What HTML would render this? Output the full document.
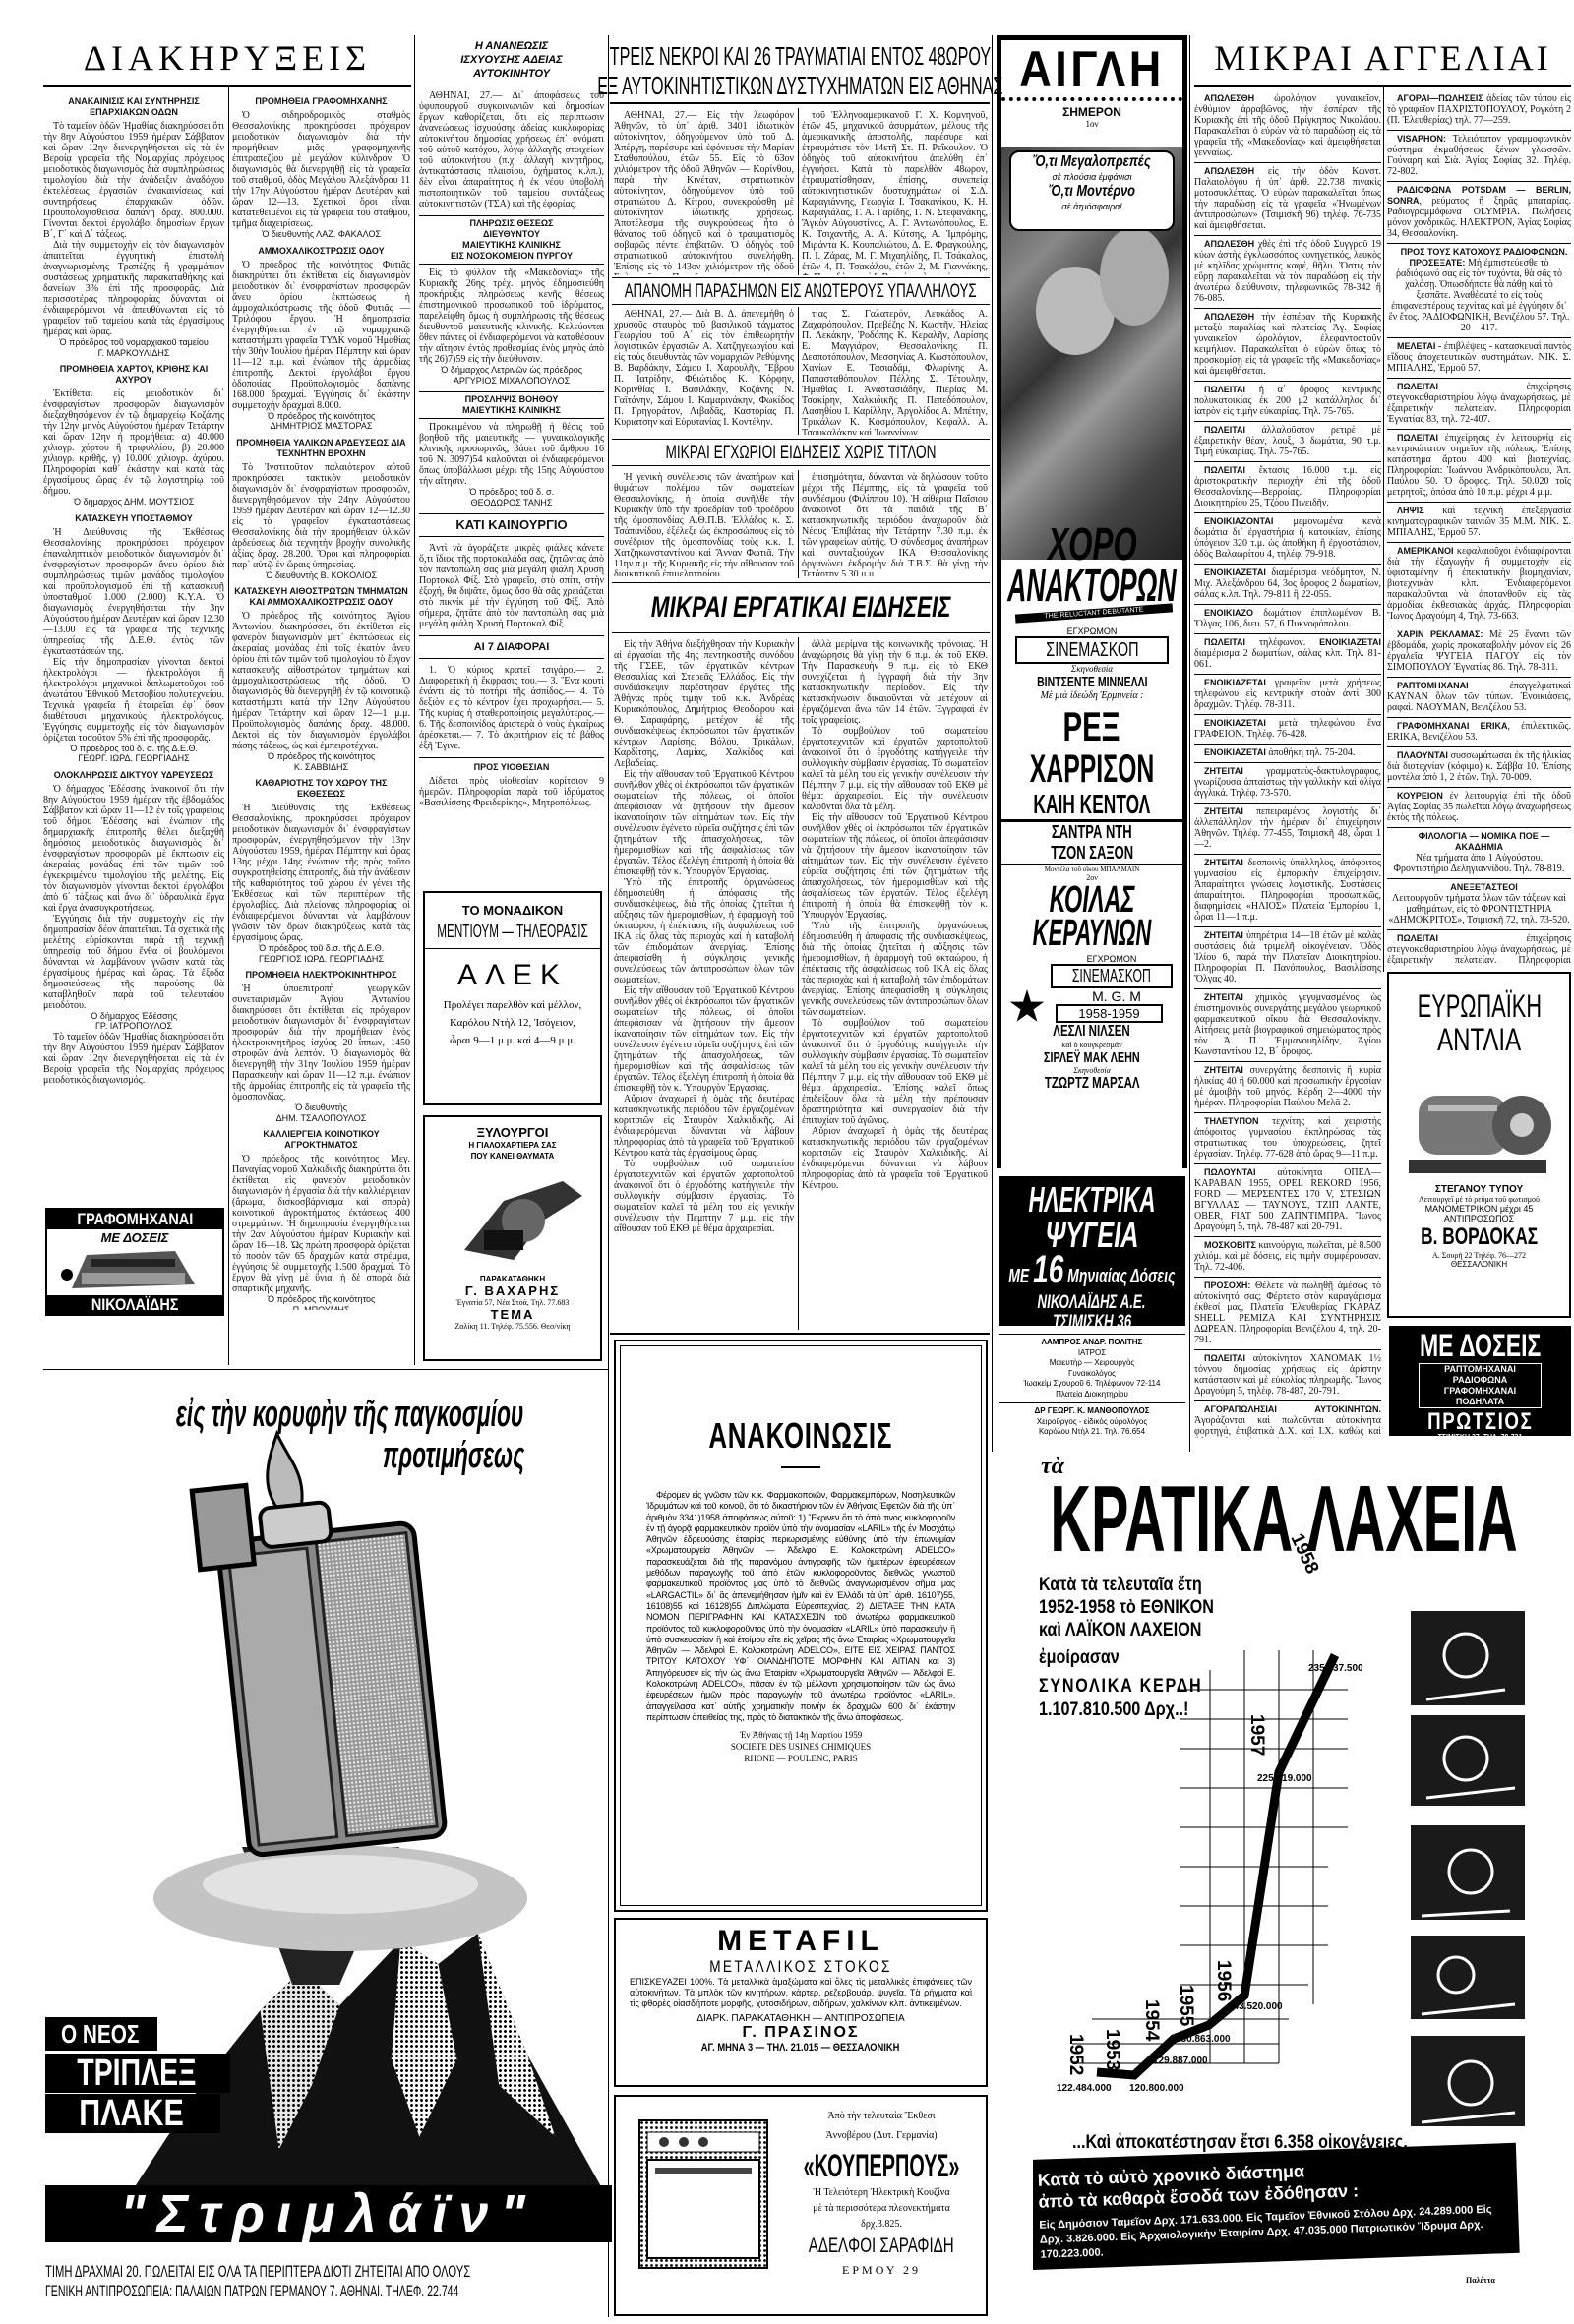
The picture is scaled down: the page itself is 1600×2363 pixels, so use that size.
<!DOCTYPE html>
<html><head><meta charset="utf-8">
<style>
*{margin:0;padding:0;box-sizing:border-box}
body{width:1600px;height:2363px;background:#fff;position:relative;overflow:hidden;font-family:"Liberation Serif",serif;color:#000}
.a{position:absolute}
.col{position:absolute;overflow:hidden;font:10px/11px "Liberation Serif",serif;text-align:justify;color:#111}
.col p{text-indent:10px}
.h{font:bold 9px/11px "Liberation Sans",sans-serif;text-align:center;margin:6px 0 3px;text-indent:0!important}
.hb{font:bold 13px/18px "Liberation Sans",sans-serif;text-align:center;border-top:1px solid #000;border-bottom:1px solid #000;margin:6px 0;padding:2px 0}
.s{font:9px/10.5px "Liberation Sans",sans-serif;text-align:center;text-indent:0!important}
.vr{position:absolute;width:1px;background:#000}
.hr{position:absolute;height:1px;background:#000}
.cl p{border-bottom:1px solid #000;padding:3px 0 4px;text-indent:10px}
.cl b{font-family:"Liberation Sans",sans-serif;font-size:9px}
.nar{font-family:"Liberation Sans",sans-serif}
.blk{background:#000;color:#fff;text-align:center;font-family:"Liberation Sans",sans-serif;font-weight:bold}
.ctr{text-align:center}
.fc{display:flex;justify-content:center;white-space:nowrap;font-family:"Liberation Sans",sans-serif}
.fc>span{flex-shrink:0;display:block;transform:scaleX(var(--s,.72))}
.dots{background:#fff radial-gradient(circle,#000 1.3px,transparent 1.6px) 0 0/5px 5px}
</style></head><body>

<!-- headers -->
<div class="a" style="left:44px;top:38px;width:374px;text-align:center;font-size:36px;letter-spacing:5px;line-height:42px">ΔΙΑΚΗΡΥΞΕΙΣ</div>
<div class="a fc" style="left:620px;top:42px;width:386px;font-size:26px;line-height:30px;--s:.62"><span>ΤΡΕΙΣ ΝΕΚΡΟΙ ΚΑΙ 26 ΤΡΑΥΜΑΤΙΑΙ ΕΝΤΟΣ 48ΩΡΟΥ</span></div>
<div class="a fc" style="left:620px;top:72px;width:386px;font-size:26px;line-height:30px;--s:.62"><span>ΕΞ ΑΥΤΟΚΙΝΗΤΙΣΤΙΚΩΝ ΔΥΣΤΥΧΗΜΑΤΩΝ ΕΙΣ ΑΘΗΝΑΣ</span></div>
<div class="a" style="left:1214px;top:38px;width:383px;text-align:center;font-size:36px;letter-spacing:3px;line-height:42px">ΜΙΚΡΑΙ ΑΓΓΕΛΙΑΙ</div>
<div class="a ctr" style="left:426px;top:40px;width:188px;font:italic bold 11px/14px 'Liberation Sans',sans-serif">Η ΑΝΑΝΕΩΣΙΣ<br>ΙΣΧΥΟΥΣΗΣ ΑΔΕΙΑΣ<br>ΑΥΤΟΚΙΝΗΤΟΥ</div>

<!-- rules -->
<div class="vr" style="left:232px;top:88px;height:1300px"></div>
<div class="vr" style="left:421px;top:36px;height:1352px"></div>
<div class="vr" style="left:618px;top:36px;height:2320px"></div>
<div class="vr" style="left:1008px;top:36px;height:1440px"></div>
<div class="vr" style="left:1209px;top:36px;height:1440px"></div>
<div class="vr" style="left:1406px;top:88px;height:900px"></div>
<div class="vr" style="left:811px;top:110px;height:170px"></div>
<div class="vr" style="left:811px;top:312px;height:130px"></div>
<div class="vr" style="left:811px;top:478px;height:110px"></div>
<div class="vr" style="left:811px;top:648px;height:704px"></div>
<div class="hr" style="left:44px;top:86px;width:374px;height:2px"></div>
<div class="hr" style="left:1214px;top:86px;width:383px;height:2px"></div>
<div class="hr" style="left:620px;top:104px;width:386px;height:2px"></div>
<div class="hr" style="left:44px;top:1392px;width:574px"></div>
<div class="hr" style="left:620px;top:1355px;width:386px;height:2px"></div>

<!-- COL 1 -->
<div class="col" style="left:44px;top:92px;width:184px;height:1130px">
<div class="h">ΑΝΑΚΑΙΝΙΣΙΣ ΚΑΙ ΣΥΝΤΗΡΗΣΙΣ ΕΠΑΡΧΙΑΚΩΝ ΟΔΩΝ</div>
<p>Τὸ ταμεῖον ὁδῶν Ἠμαθίας διακηρύσσει ὅτι τὴν 8ην Αὐγούστου 1959 ἡμέραν Σάββατον καὶ ὥραν 12ην διενεργηθήσεται εἰς τὰ ἐν Βεροίᾳ γραφεῖα τῆς Νομαρχίας πρόχειρος μειοδοτικὸς διαγωνισμὸς διὰ συμπληρώσεως τιμολογίου διὰ τὴν ἀνάδειξιν ἀναδόχου ἐκτελέσεως ἐργασιῶν ἀνακαινίσεως καὶ συντηρήσεως ἐπαρχιακῶν ὁδῶν. Προϋπολογισθεῖσα δαπάνη δραχ. 800.000. Γίνονται δεκτοὶ ἐργολάβοι δημοσίων ἔργων Β΄, Γ΄ καὶ Δ΄ τάξεως.</p>
<p>Διὰ τὴν συμμετοχὴν εἰς τὸν διαγωνισμὸν ἀπαιτεῖται ἐγγυητικὴ ἐπιστολὴ ἀναγνωρισμένης Τραπέζης ἢ γραμμάτιον συστάσεως χρηματικῆς παρακαταθήκης καὶ δανείων 3% ἐπὶ τῆς προσφορᾶς. Διὰ περισσοτέρας πληροφορίας δύνανται οἱ ἐνδιαφερόμενοι νὰ ἀπευθύνωνται εἰς τὸ γραφεῖον τοῦ ταμείου κατὰ τὰς ἐργασίμους ἡμέρας καὶ ὥρας.</p>
<p class="s">Ὁ πρόεδρος τοῦ νομαρχιακοῦ ταμείου<br>Γ. ΜΑΡΚΟΥΛΙΔΗΣ</p>
<div class="h">ΠΡΟΜΗΘΕΙΑ ΧΑΡΤΟΥ, ΚΡΙΘΗΣ ΚΑΙ ΑΧΥΡΟΥ</div>
<p>Ἐκτίθεται εἰς μειοδοτικὸν δι᾽ ἐνσφραγίστων προσφορῶν διαγωνισμὸν διεξαχθησόμενον ἐν τῷ δημαρχείῳ Κοζάνης τὴν 12ην μηνὸς Αὐγούστου ἡμέραν Τετάρτην καὶ ὥραν 12ην ἡ προμήθεια: α) 40.000 χιλιογρ. χόρτου ἢ τριφυλλίου, β) 20.000 χιλιογρ. κριθῆς, γ) 10.000 χιλιογρ. ἀχύρου. Πληροφορίαι καθ᾽ ἑκάστην καὶ κατὰ τὰς ἐργασίμους ὥρας ἐν τῷ λογιστηρίῳ τοῦ δήμου.</p>
<p class="s">Ὁ δήμαρχος ΔΗΜ. ΜΟΥΤΣΙΟΣ</p>
<div class="h">ΚΑΤΑΣΚΕΥΗ ΥΠΟΣΤΑΘΜΟΥ</div>
<p>Ἡ Διεύθυνσις τῆς Ἐκθέσεως Θεσσαλονίκης προκηρύσσει πρόχειρον ἐπαναληπτικὸν μειοδοτικὸν διαγωνισμὸν δι᾽ ἐνσφραγίστων προσφορῶν ἄνευ ὁρίου διὰ συμπληρώσεως τιμῶν μονάδος τιμολογίου καὶ προϋπολογισμοῦ ἐπὶ τῇ κατασκευῇ ὑποσταθμοῦ 1.000 (2.000) Κ.Υ.Α. Ὁ διαγωνισμὸς ἐνεργηθήσεται τὴν 3ην Αὐγούστου ἡμέραν Δευτέραν καὶ ὥραν 12.30—13.00 εἰς τὰ γραφεῖα τῆς τεχνικῆς ὑπηρεσίας τῆς Δ.Ε.Θ. ἐντὸς τῶν ἐγκαταστάσεών της.</p>
<p>Εἰς τὴν δημοπρασίαν γίνονται δεκτοὶ ἠλεκτρολόγοι — ἠλεκτρολόγοι ἢ ἠλεκτρολόγοι μηχανικοὶ διπλωματοῦχοι τοῦ ἀνωτάτου Ἐθνικοῦ Μετσοβίου πολυτεχνείου. Τεχνικὰ γραφεῖα ἢ ἑταιρεῖαι ἐφ᾽ ὅσον διαθέτουσι μηχανικοὺς ἠλεκτρολόγους. Ἐγγύησις συμμετοχῆς εἰς τὸν διαγωνισμὸν ὁρίζεται τοσοῦτον 5% ἐπὶ τῆς προσφορᾶς.</p>
<p class="s">Ὁ πρόεδρος τοῦ δ. σ. τῆς Δ.Ε.Θ.<br>ΓΕΩΡΓ. ΙΩΡΔ. ΓΕΩΡΓΙΑΔΗΣ</p>
<div class="h">ΟΛΟΚΛΗΡΩΣΙΣ ΔΙΚΤΥΟΥ ΥΔΡΕΥΣΕΩΣ</div>
<p>Ὁ δήμαρχος Ἐδέσσης ἀνακοινοῖ ὅτι τὴν 8ην Αὐγούστου 1959 ἡμέραν τῆς ἑβδομάδος Σάββατον καὶ ὥραν 11—12 ἐν τοῖς γραφείοις τοῦ δήμου Ἐδέσσης καὶ ἐνώπιον τῆς δημαρχιακῆς ἐπιτροπῆς θέλει διεξαχθῆ δημόσιος μειοδοτικὸς διαγωνισμὸς δι᾽ ἐνσφραγίστων προσφορῶν μὲ ἔκπτωσιν εἰς ἀκεραίας μονάδας ἐπὶ τῶν τιμῶν τοῦ ἐγκεκριμένου τιμολογίου τῆς μελέτης. Εἰς τὸν διαγωνισμὸν γίνονται δεκτοὶ ἐργολάβοι ἀπὸ 6΄ τάξεως καὶ ἄνω δι᾽ ὑδραυλικὰ ἔργα καὶ ἔργα ἀνασυγκροτήσεως.</p>
<p>Ἐγγύησις διὰ τὴν συμμετοχὴν εἰς τὴν δημοπρασίαν δέον ἀπαιτεῖται. Τὰ σχετικὰ τῆς μελέτης εὑρίσκονται παρὰ τῇ τεχνικῇ ὑπηρεσίᾳ τοῦ δήμου ἔνθα οἱ βουλόμενοι δύνανται νὰ λαμβάνουν γνῶσιν κατὰ τὰς ἐργασίμους ἡμέρας καὶ ὥρας. Τὰ ἔξοδα δημοσιεύσεως τῆς παρούσης θὰ καταβληθοῦν παρὰ τοῦ τελευταίου μειοδότου.</p>
<p class="s">Ὁ δήμαρχος Ἐδέσσης<br>ΓΡ. ΙΑΤΡΟΠΟΥΛΟΣ</p>
<p>Τὸ ταμεῖον ὁδῶν Ἠμαθίας διακηρύσσει ὅτι τὴν 8ην Αὐγούστου 1959 ἡμέραν Σάββατον καὶ ὥραν 12ην διενεργηθήσεται εἰς τὰ ἐν Βεροίᾳ γραφεῖα τῆς Νομαρχίας πρόχειρος μειοδοτικὸς διαγωνισμός.</p>
</div>
<!-- Grafomixanai ad -->
<div class="a" style="left:46px;top:1228px;width:182px;height:110px;border:2px solid #000;overflow:hidden">
<div class="blk fc" style="font-size:17px;line-height:20px;--s:.85"><span>ΓΡΑΦΟΜΗΧΑΝΑΙ</span></div>
<div class="ctr" style="font:italic bold 13px 'Liberation Sans',sans-serif;margin-top:1px">ΜΕ ΔΟΣΕΙΣ</div>
<svg width="178" height="50" style="display:block"><polygon points="40,10 130,6 150,40 25,44" fill="#555"/><rect x="45" y="14" width="85" height="8" fill="#222"/><rect x="35" y="28" width="105" height="12" fill="#999"/><circle cx="20" cy="30" r="6" fill="#000"/></svg>
<div class="blk fc" style="position:absolute;bottom:0;left:0;right:0;font-size:17px;line-height:19px;--s:.85"><span>ΝΙΚΟΛΑΪΔΗΣ</span></div>
</div>

<!-- COL 2 -->
<div class="col" style="left:236px;top:92px;width:181px;height:1240px">
<div class="h">ΠΡΟΜΗΘΕΙΑ ΓΡΑΦΟΜΗΧΑΝΗΣ</div>
<p>Ὁ σιδηροδρομικὸς σταθμὸς Θεσσαλονίκης προκηρύσσει πρόχειρον μειοδοτικὸν διαγωνισμὸν διὰ τὴν προμήθειαν μιᾶς γραφομηχανῆς ἐπιτραπεζίου μὲ μεγάλον κύλινδρον. Ὁ διαγωνισμὸς θὰ διενεργηθῇ εἰς τὰ γραφεῖα τοῦ σταθμοῦ, ὁδὸς Μεγάλου Ἀλεξάνδρου 11 τὴν 17ην Αὐγούστου ἡμέραν Δευτέραν καὶ ὥραν 12—13. Σχετικοὶ ὅροι εἶναι κατατεθειμένοι εἰς τὰ γραφεῖα τοῦ σταθμοῦ, τμῆμα διαχειρίσεως.</p>
<p class="s">Ὁ διευθυντὴς ΛΑΖ. ΦΑΚΑΛΟΣ</p>
<div class="h">ΑΜΜΟΧΑΛΙΚΟΣΤΡΩΣΙΣ ΟΔΟΥ</div>
<p>Ὁ πρόεδρος τῆς κοινότητος Φυτιᾶς διακηρύττει ὅτι ἐκτίθεται εἰς διαγωνισμὸν μειοδοτικὸν δι᾽ ἐνσφραγίστων προσφορῶν ἄνευ ὁρίου ἐκπτώσεως ἡ ἀμμοχαλικόστρωσις τῆς ὁδοῦ Φυτιᾶς — Τριλόφου ἔργου. Ἡ δημοπρασία ἐνεργηθήσεται ἐν τῷ νομαρχιακῷ καταστήματι γραφεῖα ΤΥΔΚ νομοῦ Ἠμαθίας τὴν 30ὴν Ἰουλίου ἡμέραν Πέμπτην καὶ ὥραν 11—12 π.μ. καὶ ἐνώπιον τῆς ἁρμοδίας ἐπιτροπῆς. Δεκτοὶ ἐργολάβοι ἔργου ὁδοποιίας. Προϋπολογισμὸς δαπάνης 168.000 δραχμαί. Ἐγγύησις δι᾽ ἑκάστην συμμετοχὴν δραχμαὶ 8.000.</p>
<p class="s">Ὁ πρόεδρος τῆς κοινότητος<br>ΔΗΜΗΤΡΙΟΣ ΜΑΣΤΟΡΑΣ</p>
<div class="h">ΠΡΟΜΗΘΕΙΑ ΥΑΛΙΚΩΝ ΑΡΔΕΥΣΕΩΣ ΔΙΑ ΤΕΧΝΗΤΗΝ ΒΡΟΧΗΝ</div>
<p>Τὸ Ἰνστιτοῦτον παλαιότερον αὐτοῦ προκηρύσσει τακτικὸν μειοδοτικὸν διαγωνισμὸν δι᾽ ἐνσφραγίστων προσφορῶν, διενεργηθησόμενον τὴν 24ην Αὐγούστου 1959 ἡμέραν Δευτέραν καὶ ὥραν 12—12.30 εἰς τὸ γραφεῖον ἐγκαταστάσεως Θεσσαλονίκης διὰ τὴν προμήθειαν ὑλικῶν ἀρδεύσεως διὰ τεχνητὴν βροχὴν συνολικῆς ἀξίας δραχ. 28.200. Ὅροι καὶ πληροφορίαι παρ᾽ αὐτῷ ἐν ὥραις ὑπηρεσίας.</p>
<p class="s">Ὁ διευθυντὴς Β. ΚΟΚΟΛΙΟΣ</p>
<div class="h">ΚΑΤΑΣΚΕΥΗ ΑΙΘΟΣΤΡΩΤΩΝ ΤΜΗΜΑΤΩΝ ΚΑΙ ΑΜΜΟΧΑΛΙΚΟΣΤΡΩΣΙΣ ΟΔΟΥ</div>
<p>Ὁ πρόεδρος τῆς κοινότητος Ἁγίου Ἀντωνίου, διακηρύσσει, ὅτι ἐκτίθεται εἰς φανερὸν διαγωνισμὸν μετ᾽ ἐκπτώσεως εἰς ἀκεραίας μονάδας ἐπὶ τοῖς ἑκατὸν ἄνευ ὁρίου ἐπὶ τῶν τιμῶν τοῦ τιμολογίου τὸ ἔργον κατασκευῆς αἰθοστρώτων τμημάτων καὶ ἀμμοχαλικοστρώσεως τῆς ὁδοῦ. Ὁ διαγωνισμὸς θὰ διενεργηθῇ ἐν τῷ κοινοτικῷ καταστήματι κατὰ τὴν 12ην Αὐγούστου ἡμέραν Τετάρτην καὶ ὥραν 12—1 μ.μ. Προϋπολογισμὸς δαπάνης δραχ. 48.000. Δεκτοὶ εἰς τὸν διαγωνισμὸν ἐργολάβοι πάσης τάξεως, ὡς καὶ ἐμπειροτέχναι.</p>
<p class="s">Ὁ πρόεδρος τῆς κοινότητος<br>Κ. ΣΑΒΒΙΔΗΣ</p>
<div class="h">ΚΑΘΑΡΙΟΤΗΣ ΤΟΥ ΧΩΡΟΥ ΤΗΣ ΕΚΘΕΣΕΩΣ</div>
<p>Ἡ Διεύθυνσις τῆς Ἐκθέσεως Θεσσαλονίκης, προκηρύσσει πρόχειρον μειοδοτικὸν διαγωνισμὸν δι᾽ ἐνσφραγίστων προσφορῶν, ἐνεργηθησόμενον τὴν 13ην Αὐγούστου 1959, ἡμέραν Πέμπτην καὶ ὥρας 13ης μέχρι 14ης ἐνώπιον τῆς πρὸς τοῦτο συγκροτηθείσης ἐπιτροπῆς, διὰ τὴν ἀνάθεσιν τῆς καθαριότητος τοῦ χώρου ἐν γένει τῆς Ἐκθέσεως καὶ τῶν περιπτέρων τῆς ἐργολαβίας. Διὰ πλείονας πληροφορίας οἱ ἐνδιαφερόμενοι δύνανται νὰ λαμβάνουν γνῶσιν τῶν ὅρων διακηρύξεως κατὰ τὰς ἐργασίμους ὥρας.</p>
<p class="s">Ὁ πρόεδρος τοῦ δ.σ. τῆς Δ.Ε.Θ.<br>ΓΕΩΡΓΙΟΣ ΙΩΡΔ. ΓΕΩΡΓΙΑΔΗΣ</p>
<div class="h">ΠΡΟΜΗΘΕΙΑ ΗΛΕΚΤΡΟΚΙΝΗΤΗΡΟΣ</div>
<p>Ἡ ὑποεπιτροπὴ γεωργικῶν συνεταιρισμῶν Ἀγίου Ἀντωνίου διακηρύσσει ὅτι ἐκτίθεται εἰς πρόχειρον μειοδοτικὸν διαγωνισμὸν δι᾽ ἐνσφραγίστων προσφορῶν διὰ τὴν προμήθειαν ἑνὸς ἠλεκτροκινητῆρος ἰσχύος 20 ἵππων, 1450 στροφῶν ἀνὰ λεπτόν. Ὁ διαγωνισμὸς θὰ διενεργηθῇ τὴν 31ην Ἰουλίου 1959 ἡμέραν Παρασκευὴν καὶ ὥραν 11—12 π.μ. ἐνώπιον τῆς ἁρμοδίας ἐπιτροπῆς εἰς τὰ γραφεῖα τῆς ὁμοσπονδίας.</p>
<p class="s">Ὁ διευθυντὴς<br>ΔΗΜ. ΤΣΑΛΟΠΟΥΛΟΣ</p>
<div class="h">ΚΑΛΛΙΕΡΓΕΙΑ ΚΟΙΝΟΤΙΚΟΥ ΑΓΡΟΚΤΗΜΑΤΟΣ</div>
<p>Ὁ πρόεδρος τῆς κοινότητος Μεγ. Παναγίας νομοῦ Χαλκιδικῆς διακηρύττει ὅτι ἐκτίθεται εἰς φανερὸν μειοδοτικὸν διαγωνισμὸν ἡ ἐργασία διὰ τὴν καλλιέργειαν (ἄρωμα, δισκοσβάρνισμα καὶ σπορὰ) κοινοτικοῦ ἀγροκτήματος ἐκτάσεως 400 στρεμμάτων. Ἡ δημοπρασία ἐνεργηθήσεται τὴν 2αν Αὐγούστου ἡμέραν Κυριακὴν καὶ ὥραν 16—18. Ὡς πρώτη προσφορὰ ὁρίζεται τὸ ποσὸν τῶν 65 δραχμῶν κατὰ στρέμμα, ἐγγύησις δὲ συμμετοχῆς 1.500 δραχμαί. Τὸ ἔργον θὰ γίνῃ μὲ ὕνια, ἡ δὲ σπορὰ διὰ σπαρτικῆς μηχανῆς.</p>
<p class="s">Ὁ πρόεδρος τῆς κοινότητος<br>Π. ΜΠΟΥΜΗΣ</p>
</div>

<!-- COL 3 -->
<div class="col" style="left:426px;top:92px;width:188px;height:810px">
<p>ΑΘΗΝΑΙ, 27.— Δι᾽ ἀποφάσεως τοῦ ὑφυπουργοῦ συγκοινωνιῶν καὶ δημοσίων ἔργων καθορίζεται, ὅτι εἰς περίπτωσιν ἀνανεώσεως ἰσχυούσης ἀδείας κυκλοφορίας αὐτοκινήτου δημοσίας χρήσεως ἐπ᾽ ὀνόματι τοῦ αὐτοῦ κατόχου, λόγῳ ἀλλαγῆς στοιχείων τοῦ αὐτοκινήτου (π.χ. ἀλλαγὴ κινητῆρος, ἀντικατάστασις πλαισίου, ὀχήματος κ.λπ.), δὲν εἶναι ἀπαραίτητος ἡ ἐκ νέου ὑποβολὴ πιστοποιητικῶν τοῦ ταμείου συντάξεως αὐτοκινητιστῶν (ΤΣΑ) καὶ τῆς ἐφορίας.</p>
<div class="h" style="border-top:1px solid #000;border-bottom:1px solid #000;padding:2px 0">ΠΛΗΡΩΣΙΣ ΘΕΣΕΩΣ<br>ΔΙΕΥΘΥΝΤΟΥ<br>ΜΑΙΕΥΤΙΚΗΣ ΚΛΙΝΙΚΗΣ<br>ΕΙΣ ΝΟΣΟΚΟΜΕΙΟΝ ΠΥΡΓΟΥ</div>
<p>Εἰς τὸ φύλλον τῆς «Μακεδονίας» τῆς Κυριακῆς 26ης τρέχ. μηνὸς ἐδημοσιεύθη προκήρυξις πληρώσεως κενῆς θέσεως ἐπιστημονικοῦ προσωπικοῦ τοῦ ἱδρύματος, παρελείφθη ὅμως ἡ συμπλήρωσις τῆς θέσεως διευθυντοῦ μαιευτικῆς κλινικῆς. Κελεύονται ὅθεν πάντες οἱ ἐνδιαφερόμενοι νὰ καταθέσουν τὴν αἴτησιν ἐντὸς προθεσμίας ἑνὸς μηνὸς ἀπὸ τῆς 26)7)59 εἰς τὴν διεύθυνσιν.</p>
<p class="s">Ὁ δήμαρχος Λετρινῶν ὡς πρόεδρος<br>ΑΡΓΥΡΙΟΣ ΜΙΧΑΛΟΠΟΥΛΟΣ</p>
<div class="h" style="border-top:1px solid #000;border-bottom:1px solid #000;padding:2px 0">ΠΡΟΣΛΗΨΙΣ ΒΟΗΘΟΥ<br>ΜΑΙΕΥΤΙΚΗΣ ΚΛΙΝΙΚΗΣ</div>
<p>Προκειμένου νὰ πληρωθῇ ἡ θέσις τοῦ βοηθοῦ τῆς μαιευτικῆς — γυναικολογικῆς κλινικῆς προσωρινῶς, βάσει τοῦ ἄρθρου 16 τοῦ Ν. 3097)54 καλοῦνται οἱ ἐνδιαφερόμενοι ὅπως ὑποβάλλωσι μέχρι τῆς 15ης Αὐγούστου τὴν αἴτησιν.</p>
<p class="s">Ὁ πρόεδρος τοῦ δ. σ.<br>ΘΕΟΔΩΡΟΣ ΤΑΝΗΣ</p>
<div class="hb">ΚΑΤΙ ΚΑΙΝΟΥΡΓΙΟ</div>
<p>Ἀντὶ νὰ ἀγοράζετε μικρὲς φιάλες κάνετε ὅ,τι ἴδιος τῆς πορτοκαλάδα σας, ζητῶντας ἀπὸ τὸν παντοπώλη σας μιὰ μεγάλη φιάλη Χρυσὴ Πορτοκαλ Φίξ. Στὸ γραφεῖο, στὸ σπίτι, στὴν ἐξοχή, θὰ διψᾶτε, ὅμως ὅσο θὰ σᾶς χρειάζεται στὸ πικνίκ μὲ τὴν ἐγγύηση τοῦ Φίξ. Ἀπὸ σήμερα, ζητᾶτε ἀπὸ τὸν παντοπώλη σας μιὰ μεγάλη φιάλη Χρυσὴ Πορτοκαλ Φίξ.</p>
<div class="hb" style="font-size:11px">ΑΙ 7 ΔΙΑΦΟΡΑΙ</div>
<p>1. Ὁ κύριος κρατεῖ τσιγάρο.— 2. Διαφορετικὴ ἡ ἔκφρασις του.— 3. Ἔνα κουτὶ ἐνάντι εἰς τὸ ποτήρι τῆς ἀσπίδος.— 4. Τὸ δεξιὸν εἰς τὸ κέντρον ἔχει προχωρήσει.— 5. Τῆς κυρίας ἡ σταθεροποίησις μεγαλύτερος.— 6. Τῆς δεσποινίδος ἀριστερὰ ὁ νοὺς ἐγκαίρως ἀρέσκεται.— 7. Τὸ ἀκριτήριον εἰς τὸ βάθος ἐξῆ Ἐγινε.</p>
<div class="h" style="border-top:1px solid #000;padding-top:4px">ΠΡΟΣ ΥΙΟΘΕΣΙΑΝ</div>
<p>Δίδεται πρὸς υἱοθεσίαν κορίτσιον 9 ἡμερῶν. Πληροφορίαι παρὰ τοῦ ἱδρύματος «Βασιλίσσης Φρειδερίκης», Μητροπόλεως.</p>
</div>
<div class="a ctr" style="left:430px;top:906px;width:182px;height:218px;border:2px solid #000;padding-top:10px">
<div class="nar" style="font-size:13px;font-weight:bold">ΤΟ ΜΟΝΑΔΙΚΟΝ</div>
<div class="fc" style="font-size:18px;margin-top:4px;border-bottom:1px solid #000;padding-bottom:6px;--s:.65"><span>ΜΕΝΤΙΟΥΜ — ΤΗΛΕΟΡΑΣΙΣ</span></div>
<div style="font-size:30px;letter-spacing:8px;margin:10px 0 4px;font-family:'Liberation Sans',sans-serif">ΑΛΕΚ</div>
<div style="font-size:11px;line-height:18px">Προλέγει παρελθὸν καὶ μέλλον,<br>Καρόλου Ντὴλ 12, Ἰσόγειον,<br>ὧραι 9—1 μ.μ. καὶ 4—9 μ.μ.</div>
</div>
<div class="a ctr" style="left:430px;top:1134px;width:182px;height:250px;border:2px solid #000;padding-top:8px">
<div class="nar" style="font-size:13px;font-weight:bold">ΞΥΛΟΥΡΓΟΙ</div>
<div class="nar" style="font-size:8px;font-weight:bold;line-height:11px">Η ΓΙΑΛΟΧΑΡΤΙΕΡΑ ΣΑΣ<br>ΠΟΥ ΚΑΝΕΙ ΘΑΥΜΑΤΑ</div>
<svg width="178" height="110"><polygon points="40,90 80,40 140,20 160,35 120,60 90,100" fill="#333"/><circle cx="100" cy="60" r="22" fill="#666"/><rect x="60" y="70" width="40" height="20" fill="#111"/></svg>
<div class="nar" style="font-size:8px;font-weight:bold">ΠΑΡΑΚΑΤΑΘΗΚΗ</div>
<div class="nar" style="font-size:13px;font-weight:bold;letter-spacing:2px">Γ. ΒΑΧΑΡΗΣ</div>
<div style="font-size:8px">Ἐγνατία 57, Νέα Στοά, Τηλ. 77.683</div>
<div class="nar" style="font-size:13px;font-weight:bold;letter-spacing:2px">ΤΕΜΑ</div>
<div style="font-size:8px">Ζαλίκη 11. Τηλέφ. 75.556. Θεσ/νίκη</div>
</div>

<!-- COL 4 -->
<div class="col" style="left:624px;top:112px;width:183px;height:168px">
<p>ΑΘΗΝΑΙ, 27.— Εἰς τὴν λεωφόρον Ἀθηνῶν, τὸ ὑπ᾽ ἀριθ. 3401 ἰδιωτικὸν αὐτοκίνητον, ὁδηγούμενον ὑπὸ τοῦ Δ. Ἀπέργη, παρέσυρε καὶ ἐφόνευσε τὴν Μαρίαν Σταθοπούλου, ἐτῶν 55. Εἰς τὸ 63ον χιλιόμετρον τῆς ὁδοῦ Ἀθηνῶν — Κορίνθου, παρὰ τὴν Κινέταν, στρατιωτικὸν αὐτοκίνητον, ὁδηγούμενον ὑπὸ τοῦ στρατιώτου Δ. Κίτρου, συνεκρούσθη μὲ αὐτοκίνητον ἰδιωτικῆς χρήσεως. Ἀποτέλεσμα τῆς συγκρούσεως ἦτο ὁ θάνατος τοῦ ὁδηγοῦ καὶ ὁ τραυματισμὸς σοβαρῶς πέντε ἐπιβατῶν. Ὁ ὁδηγὸς τοῦ στρατιωτικοῦ αὐτοκινήτου συνελήφθη. Ἐπίσης εἰς τὸ 143ον χιλιόμετρον τῆς ὁδοῦ Σαλονικῶν — Πατρῶν.</p>
</div>
<div class="col" style="left:815px;top:112px;width:189px;height:168px">
<p>τοῦ Ἑλληνοαμερικανοῦ Γ. Χ. Κομνηνοῦ, ἐτῶν 45, μηχανικοῦ ἀσυρμάτων, μέλους τῆς ἀμερικανικῆς ἀποστολῆς, παρέσυρε καὶ ἐτραυμάτισε τὸν 14ετῆ Στ. Π. Ρεΐκουλον. Ὁ ὁδηγὸς τοῦ αὐτοκινήτου ἀπελύθη ἐπ᾽ ἐγγυήσει. Κατὰ τὸ παρελθὸν 48ωρον, ἐτραυματίσθησαν, ἐπίσης, συνεπείᾳ αὐτοκινητιστικῶν δυστυχημάτων οἱ Σ.Δ. Καραγιάννης, Γεωργία Ι. Τσακανίκου, Κ. Η. Καραγιάλας, Γ. Α. Γαρίδης, Γ. Ν. Στεφανάκης, Ἄγκὸν Αὐγουστίνος, Α. Γ. Ἀντωνόπουλος, Ε. Κ. Τσιχαντῆς, Α. Α. Κύτσης, Α. Ἰμπρόμης, Μιράντα Κ. Κουπαλιώτου, Δ. Ε. Φραγκούλης, Π. Ι. Ζάρας, Μ. Γ. Μιχαηλίδης, Π. Τσάκαλος, ἐτῶν 4, Π. Τσακάλου, ἐτῶν 2, Μ. Γιαννάκης, Φ. Παπαδάκη καὶ Ι. Βραχάτης λοχαγός.</p>
</div>
<div class="a fc" style="left:622px;top:282px;width:384px;height:28px;border-top:1px solid #000;border-bottom:1px solid #000;font-size:19px;line-height:27px;--s:.7"><span>ΑΠΑΝΟΜΗ ΠΑΡΑΣΗΜΩΝ ΕΙΣ ΑΝΩΤΕΡΟΥΣ ΥΠΑΛΛΗΛΟΥΣ</span></div>
<div class="col" style="left:624px;top:314px;width:183px;height:128px">
<p>ΑΘΗΝΑΙ, 27.— Διὰ Β. Δ. ἀπενεμήθη ὁ χρυσοῦς σταυρὸς τοῦ βασιλικοῦ τάγματος Γεωργίου τοῦ Α΄ εἰς τὸν ἐπιθεωρητὴν λογιστικῶν ἐργασιῶν Α. Χατζηγεωργίου καὶ εἰς τοὺς διευθυντὰς τῶν νομαρχιῶν Ρεθύμνης Β. Βαρδάκην, Σάμου Ι. Χαρουλῆν, Ἔβρου Π. Ἰατρίδην, Φθιώτιδος Κ. Κόρφην, Κορινθίας Ι. Βασιλάκην, Κοζάνης Ν. Γαϊτάνην, Σάμου Ι. Καμαρινάκην, Φωκίδος Π. Γρηγοράτον, Λιβαδᾶς, Καστορίας Π. Κυριάτσην καὶ Εὐρυτανίας Ι. Κοντέλην.</p>
</div>
<div class="col" style="left:815px;top:314px;width:189px;height:128px">
<p>τίας Σ. Γαλατερόν, Λευκάδος Α. Ζαχαρόπουλον, Πρεβέζης Ν. Κωστῆν, Ἡλείας Π. Λεκάκην, Ῥοδόπης Κ. Κεραλῆν, Λαρίσης Ε. Μαγγιάρον, Θεσσαλονίκης Π. Δεσποτόπουλον, Μεσσηνίας Α. Κωστόπουλον, Χανίων Ε. Τασιαδάμ, Φλωρίνης Α. Παπασταθόπουλον, Πέλλης Σ. Τέτουλην, Ἠμαθίας Ι. Ἀναστασιάδην, Πιερίας Μ. Τσακίρην, Χαλκιδικῆς Π. Πεπεδόπουλον, Λασηθίου Ι. Καρίλλην, Ἀργολίδος Α. Μπέτην, Τρικάλων Κ. Κοσμόπουλον, Κεφαλλ. Α. Τσουκαλάκην καὶ Ἰωαννίνων.</p>
</div>
<div class="a fc" style="left:622px;top:446px;width:384px;height:28px;border-top:1px solid #000;border-bottom:1px solid #000;font-size:19px;line-height:27px;--s:.72"><span>ΜΙΚΡΑΙ ΕΓΧΩΡΙΟΙ ΕΙΔΗΣΕΙΣ ΧΩΡΙΣ ΤΙΤΛΟΝ</span></div>
<div class="col" style="left:624px;top:480px;width:183px;height:106px">
<p>Ἡ γενικὴ συνέλευσις τῶν ἀναπήρων καὶ θυμάτων πολέμου τῶν σωματείων Θεσσαλονίκης, ἡ ὁποία συνῆλθε τὴν Κυριακὴν ὑπὸ τὴν προεδρίαν τοῦ προέδρου τῆς ὁμοσπονδίας Α.Θ.Π.Β. Ἑλλάδος κ. Σ. Τσάπανίδου, ἐξέλεξε ὡς ἐκπροσώπους εἰς τὸ συνέδριον τῆς ὁμοσπονδίας τοὺς κ.κ. Ι. Χατζηκωνσταντίνου καὶ Ἄνναν Φωτιᾶ. Τὴν 11ην π.μ. τῆς Κυριακῆς εἰς τὴν αἴθουσαν τοῦ διοικητικοῦ ἐπιμελητηρίου.</p>
</div>
<div class="col" style="left:815px;top:480px;width:189px;height:106px">
<p>ἐπισημότητα, δύνανται νὰ δηλώσουν τοῦτο μέχρι τῆς Πέμπτης, εἰς τὰ γραφεῖα τοῦ συνδέσμου (Φιλίππου 10). Ἡ αἰθέρια Παΐσιου ἀνακοινοῖ ὅτι τὰ παιδιὰ τῆς Β΄ κατασκηνωτικῆς περιόδου ἀναχωροῦν διὰ Νέους Ἐπιβάτας τὴν Τετάρτην 7.30 π.μ. ἐκ τῶν γραφείων αὐτῆς. Ὁ σύνδεσμος ἀναπήρων καὶ συνταξιούχων ΙΚΑ Θεσσαλονίκης ὀργανώνει ἐκδρομὴν διὰ Τ.Β.Σ. θὰ γίνῃ τὴν Τετάρτην 5.30 μ.μ.</p>
</div>
<div class="a fc" style="left:622px;top:592px;width:384px;height:52px;border-top:1px solid #000;border-bottom:1px solid #000;font:italic bold 30px/50px 'Liberation Sans',sans-serif;--s:.75"><span>ΜΙΚΡΑΙ ΕΡΓΑΤΙΚΑΙ ΕΙΔΗΣΕΙΣ</span></div>
<div class="col" style="left:624px;top:650px;width:183px;height:702px">
<p>Εἰς τὴν Ἀθήνα διεξήχθησαν τὴν Κυριακὴν αἱ ἐργασίαι τῆς 4ης πεντηκοστῆς συνόδου τῆς ΓΣΕΕ, τῶν ἐργατικῶν κέντρων Θεσσαλίας καὶ Στερεᾶς Ἑλλάδος. Εἰς τὴν συνδιάσκεψιν παρέστησαν ἐργάτες τῆς Ἀθήνας πρὸς τιμὴν τοῦ κ.κ. Ἀνδρέας Κυριακόπουλος, Δημήτριος Θεοδώρου καὶ Θ. Σαραφάρης, μετέχον δὲ τῆς συνδιασκέψεως ἐκπρόσωποι τῶν ἐργατικῶν κέντρων Λαρίσης, Βόλου, Τρικάλων, Καρδίτσης, Λαμίας, Χαλκίδος καὶ Λεβαδείας.</p>
<p>Εἰς τὴν αἴθουσαν τοῦ Ἐργατικοῦ Κέντρου συνῆλθον χθὲς οἱ ἐκπρόσωποι τῶν ἐργατικῶν σωματείων τῆς πόλεως, οἱ ὁποῖοι ἀπεφάσισαν νὰ ζητήσουν τὴν ἄμεσον ἱκανοποίησιν τῶν αἰτημάτων των. Εἰς τὴν συνέλευσιν ἐγένετο εὐρεῖα συζήτησις ἐπὶ τῶν ζητημάτων τῆς ἀπασχολήσεως, τῶν ἡμερομισθίων καὶ τῆς ἀσφαλίσεως τῶν ἐργατῶν. Τέλος ἐξελέγη ἐπιτροπὴ ἡ ὁποία θὰ ἐπισκεφθῇ τὸν κ. Ὑπουργὸν Ἐργασίας.</p>
<p>Ὑπὸ τῆς ἐπιτροπῆς ὀργανώσεως ἐδημοσιεύθη ἡ ἀπόφασις τῆς συνδιασκέψεως, διὰ τῆς ὁποίας ζητεῖται ἡ αὔξησις τῶν ἡμερομισθίων, ἡ ἐφαρμογὴ τοῦ ὀκταώρου, ἡ ἐπέκτασις τῆς ἀσφαλίσεως τοῦ ΙΚΑ εἰς ὅλας τὰς περιοχὰς καὶ ἡ καταβολὴ τῶν ἐπιδομάτων ἀνεργίας. Ἐπίσης ἀπεφασίσθη ἡ σύγκλησις γενικῆς συνελεύσεως τῶν ἀντιπροσώπων ὅλων τῶν σωματείων.</p>
<p>Εἰς τὴν αἴθουσαν τοῦ Ἐργατικοῦ Κέντρου συνῆλθον χθὲς οἱ ἐκπρόσωποι τῶν ἐργατικῶν σωματείων τῆς πόλεως, οἱ ὁποῖοι ἀπεφάσισαν νὰ ζητήσουν τὴν ἄμεσον ἱκανοποίησιν τῶν αἰτημάτων των. Εἰς τὴν συνέλευσιν ἐγένετο εὐρεῖα συζήτησις ἐπὶ τῶν ζητημάτων τῆς ἀπασχολήσεως, τῶν ἡμερομισθίων καὶ τῆς ἀσφαλίσεως τῶν ἐργατῶν. Τέλος ἐξελέγη ἐπιτροπὴ ἡ ὁποία θὰ ἐπισκεφθῇ τὸν κ. Ὑπουργὸν Ἐργασίας.</p>
<p>Αὔριον ἀναχωρεῖ ἡ ὁμὰς τῆς δευτέρας κατασκηνωτικῆς περιόδου τῶν ἐργαζομένων κοριτσιῶν εἰς Σταυρὸν Χαλκιδικῆς. Αἱ ἐνδιαφερόμεναι δύνανται νὰ λάβουν πληροφορίας ἀπὸ τὰ γραφεῖα τοῦ Ἐργατικοῦ Κέντρου κατὰ τὰς ἐργασίμους ὥρας.</p>
<p>Τὸ συμβούλιον τοῦ σωματείου ἐργατοτεχνιτῶν καὶ ἐργατῶν χαρτοπολτοῦ ἀνακοινοῖ ὅτι ὁ ἐργοδότης κατήγγειλε τὴν συλλογικὴν σύμβασιν ἐργασίας. Τὸ σωματεῖον καλεῖ τὰ μέλη του εἰς γενικὴν συνέλευσιν τὴν Πέμπτην 7 μ.μ. εἰς τὴν αἴθουσαν τοῦ ΕΚΘ μὲ θέμα ἀρχαιρεσίαι.</p>
</div>
<div class="col" style="left:815px;top:650px;width:189px;height:702px">
<p>ἀλλὰ μερίμνα τῆς κοινωνικῆς πρόνοιας. Ἡ ἀναχώρησις θὰ γίνῃ τὴν 6 π.μ. ἐκ τοῦ ΕΚΘ. Τὴν Παρασκευὴν 9 π.μ. εἰς τὸ ΕΚΘ συνεχίζεται ἡ ἐγγραφὴ διὰ τὴν 3ην κατασκηνωτικὴν περίοδον. Εἰς τὴν κατασκήνωσιν δικαιοῦνται νὰ μετέχουν αἱ ἐργαζόμεναι ἄνω τῶν 14 ἐτῶν. Ἐγγραφαὶ ἐν τοῖς γραφείοις.</p>
<p>Τὸ συμβούλιον τοῦ σωματείου ἐργατοτεχνιτῶν καὶ ἐργατῶν χαρτοπολτοῦ ἀνακοινοῖ ὅτι ὁ ἐργοδότης κατήγγειλε τὴν συλλογικὴν σύμβασιν ἐργασίας. Τὸ σωματεῖον καλεῖ τὰ μέλη του εἰς γενικὴν συνέλευσιν τὴν Πέμπτην 7 μ.μ. εἰς τὴν αἴθουσαν τοῦ ΕΚΘ μὲ θέμα: ἀρχαιρεσίαι. Εἰς τὴν συνέλευσιν καλοῦνται ὅλα τὰ μέλη.</p>
<p>Εἰς τὴν αἴθουσαν τοῦ Ἐργατικοῦ Κέντρου συνῆλθον χθὲς οἱ ἐκπρόσωποι τῶν ἐργατικῶν σωματείων τῆς πόλεως, οἱ ὁποῖοι ἀπεφάσισαν νὰ ζητήσουν τὴν ἄμεσον ἱκανοποίησιν τῶν αἰτημάτων των. Εἰς τὴν συνέλευσιν ἐγένετο εὐρεῖα συζήτησις ἐπὶ τῶν ζητημάτων τῆς ἀπασχολήσεως, τῶν ἡμερομισθίων καὶ τῆς ἀσφαλίσεως τῶν ἐργατῶν. Τέλος ἐξελέγη ἐπιτροπὴ ἡ ὁποία θὰ ἐπισκεφθῇ τὸν κ. Ὑπουργὸν Ἐργασίας.</p>
<p>Ὑπὸ τῆς ἐπιτροπῆς ὀργανώσεως ἐδημοσιεύθη ἡ ἀπόφασις τῆς συνδιασκέψεως, διὰ τῆς ὁποίας ζητεῖται ἡ αὔξησις τῶν ἡμερομισθίων, ἡ ἐφαρμογὴ τοῦ ὀκταώρου, ἡ ἐπέκτασις τῆς ἀσφαλίσεως τοῦ ΙΚΑ εἰς ὅλας τὰς περιοχὰς καὶ ἡ καταβολὴ τῶν ἐπιδομάτων ἀνεργίας. Ἐπίσης ἀπεφασίσθη ἡ σύγκλησις γενικῆς συνελεύσεως τῶν ἀντιπροσώπων ὅλων τῶν σωματείων.</p>
<p>Τὸ συμβούλιον τοῦ σωματείου ἐργατοτεχνιτῶν καὶ ἐργατῶν χαρτοπολτοῦ ἀνακοινοῖ ὅτι ὁ ἐργοδότης κατήγγειλε τὴν συλλογικὴν σύμβασιν ἐργασίας. Τὸ σωματεῖον καλεῖ τὰ μέλη του εἰς γενικὴν συνέλευσιν τὴν Πέμπτην 7 μ.μ. εἰς τὴν αἴθουσαν τοῦ ΕΚΘ μὲ θέμα ἀρχαιρεσίαι. Ἐπίσης καλεῖ ὅπως ἐπιδείξουν ὅλα τὰ μέλη τὴν πρέπουσαν δραστηριότητα καὶ συνεργασίαν διὰ τὴν ἐπιτυχίαν τοῦ ἀγῶνος.</p>
<p>Αὔριον ἀναχωρεῖ ἡ ὁμὰς τῆς δευτέρας κατασκηνωτικῆς περιόδου τῶν ἐργαζομένων κοριτσιῶν εἰς Σταυρὸν Χαλκιδικῆς. Αἱ ἐνδιαφερόμεναι δύνανται νὰ λάβουν πληροφορίας ἀπὸ τὰ γραφεῖα τοῦ Ἐργατικοῦ Κέντρου.</p>
</div>

<!-- COL 5 AIGLI -->
<div class="a" style="left:1013px;top:36px;width:194px;height:1152px;border-left:5px solid #000;border-right:5px solid #000;border-top:5px solid #000;overflow:hidden">
<div class="fc" style="font:bold 50px/58px 'Liberation Sans',sans-serif;letter-spacing:4px;border-bottom:4px dotted #000;--s:.9"><span>ΑΙΓΛΗ</span></div>
<div class="ctr nar" style="font-weight:bold;font-size:12px;margin-top:4px">ΣΗΜΕΡΟΝ</div>
<div class="ctr" style="font-size:9px">1ον</div>
<div style="position:absolute;left:0;top:108px;width:184px;height:420px;background:linear-gradient(135deg,#444 0%,#888 25%,#333 45%,#999 60%,#444 80%,#222 100%)"></div>
<div style="position:absolute;left:35px;top:230px;width:80px;height:90px;border-radius:50%;background:#bbb"></div>
<div style="position:absolute;left:100px;top:190px;width:70px;height:100px;border-radius:50%;background:#aaa"></div>
<div class="ctr" style="position:absolute;left:8px;top:112px;width:168px;height:82px;background:#fff;border:2px solid #000;border-radius:10px;font:italic bold 16px/20px 'Liberation Sans',sans-serif">
<div class="fc" style="--s:.8"><span>Ὅ,τι Μεγαλοπρεπές</span></div><div style="font-size:9px;font-weight:normal;line-height:10px">σὲ πλούσια ἐμφάνισι</div><div class="fc" style="--s:.8"><span>Ὅ,τι Μοντέρνο</span></div><div style="font-size:9px;font-weight:normal;line-height:10px">σὲ ἀτμόσφαιρα!</div></div>
<div class="fc" style="position:absolute;left:0;top:490px;width:184px;font:italic bold 46px/44px 'Liberation Sans',sans-serif;--s:.68"><span>ΧΟΡΟ</span></div>
<div class="fc" style="position:absolute;left:0;top:532px;width:184px;font:italic bold 46px/44px 'Liberation Sans',sans-serif;--s:.58"><span>ΑΝΑΚΤΟΡΩΝ</span></div>
<div class="ctr" style="position:absolute;left:14px;top:578px;width:160px;font:7px/9px 'Liberation Sans',sans-serif;background:#000;color:#fff;transform:rotate(-4deg)">THE RELUCTANT DEBUTANTE</div>
<div class="ctr" style="position:absolute;left:0;top:596px;width:184px">
<div class="nar" style="font-size:9px">ΕΓΧΡΩΜΟΝ</div>
<div class="fc" style="font-size:20px;border:2px solid #000;margin:0 14px;line-height:24px;--s:.72"><span>ΣΙΝΕΜΑΣΚΟΠ</span></div>
<div style="font-size:9px;font-style:italic">Σκηνοθεσία</div>
<div class="fc" style="font-size:15px;font-weight:bold;--s:.7"><span>ΒΙΝΤΣΕΝΤΕ ΜΙΝΝΕΛΛΙ</span></div>
<div style="font-size:10px;font-style:italic">Μὲ μιὰ ἰδεώδη Ἑρμηνεία :</div>
<div class="fc" style="font:bold 42px/44px 'Liberation Sans',sans-serif;--s:.7;margin-top:4px"><span>ΡΕΞ</span></div>
<div class="fc" style="font:bold 40px/42px 'Liberation Sans',sans-serif;--s:.62"><span>ΧΑΡΡΙΣΟΝ</span></div>
<div class="fc" style="font:bold 28px/30px 'Liberation Sans',sans-serif;border-bottom:3px solid #000;--s:.62"><span>ΚΑΙΗ ΚΕΝΤΟΛ</span></div>
<div class="fc" style="font:bold 18px/21px 'Liberation Sans',sans-serif;--s:.72"><span>ΣΑΝΤΡΑ ΝΤΗ</span></div>
<div class="fc" style="font:bold 18px/21px 'Liberation Sans',sans-serif;border-bottom:2px solid #000;--s:.72"><span>ΤΖΟΝ ΣΑΞΟΝ</span></div>
<div style="font-size:7px">Μοντέλα τοῦ οἴκου ΜΠΑΛΜΑΙΝ</div>
<div style="font-size:8px;line-height:10px">2ον</div>
<div class="fc" style="font:italic bold 38px/34px 'Liberation Sans',sans-serif;--s:.62"><span>ΚΟΙΛΑΣ</span></div>
<div class="fc" style="font:italic bold 38px/34px 'Liberation Sans',sans-serif;--s:.58"><span>ΚΕΡΑΥΝΩΝ</span></div>
<div class="nar" style="font-size:9px;margin-top:4px;padding-left:40px">ΕΓΧΡΩΜΟΝ</div>
<div class="fc" style="font-size:18px;border:2px solid #000;margin:0 10px 0 50px;--s:.68"><span>ΣΙΝΕΜΑΣΚΟΠ</span></div>
<div class="nar" style="font-size:14px;margin-left:50px">M. G. M</div>
<div class="nar" style="font-size:13px;border:2px solid #000;margin:0 20px 0 55px">1958-1959</div>
<div class="fc" style="font-size:16px;font-weight:bold;--s:.72"><span>ΛΕΣΛΙ ΝΙΛΣΕΝ</span></div>
<div style="font-size:8px">καὶ ὁ κουγκρεσμάν</div>
<div class="fc" style="font-size:15px;font-weight:bold;--s:.72"><span>ΣΙΡΛΕΫ ΜΑΚ ΛΕΗΝ</span></div>
<div style="font-size:8px;font-style:italic">Σκηνοθεσία</div>
<div class="fc" style="font-size:16px;font-weight:bold;--s:.72"><span>ΤΖΩΡΤΖ ΜΑΡΣΑΛ</span></div>
</div>
<div style="position:absolute;left:8px;top:965px;width:36px;height:36px;background:#000;clip-path:polygon(50% 0,61% 35%,98% 35%,68% 57%,79% 91%,50% 70%,21% 91%,32% 57%,2% 35%,39% 35%)"></div>
</div>
<div class="a blk" style="left:1015px;top:1196px;width:190px;height:152px;padding-top:6px">
<div class="fc" style="font:italic bold 36px/36px 'Liberation Sans',sans-serif;--s:.62"><span>ΗΛΕΚΤΡΙΚΑ</span></div>
<div class="fc" style="font:italic bold 36px/36px 'Liberation Sans',sans-serif;--s:.7"><span>ΨΥΓΕΙΑ</span></div>
<div class="fc" style="font:italic bold 20px/34px 'Liberation Sans',sans-serif;--s:.7"><span>ΜΕ <span style="font-size:40px">16</span> Μηνιαίας Δόσεις</span></div>
<div class="fc" style="font:italic bold 19px/20px 'Liberation Sans',sans-serif;--s:.7"><span>ΝΙΚΟΛΑΪΔΗΣ Α.Ε.</span></div>
<div class="fc" style="font:italic bold 19px/20px 'Liberation Sans',sans-serif;--s:.7"><span>ΤΣΙΜΙΣΚΗ 36</span></div>
</div>
<div class="a ctr" style="left:1015px;top:1356px;width:190px;font:8px/10.5px 'Liberation Sans',sans-serif">
<div style="border-top:1px solid #000;padding-top:3px;font-weight:bold">ΛΑΜΠΡΟΣ ΑΝΔΡ. ΠΟΛΙΤΗΣ</div>ΙΑΤΡΟΣ<br>Μαιευτὴρ — Χειρουργὸς<br>Γυναικολόγος<br>Ἰωακεὶμ Σγουροῦ 6. Τηλέφωνον 72-114<br>Πλατεία Διοικητηρίου
<div style="border-top:1px solid #000;margin-top:3px;padding-top:3px;font-weight:bold">ΔΡ ΓΕΩΡΓ. Κ. ΜΑΝΘΟΠΟΥΛΟΣ</div>Χειροῦργος - εἰδικὸς οὐρολόγος<br>Καρόλου Ντὴλ 21. Τηλ. 76.654
</div>

<!-- COL 6 classifieds -->
<div class="col cl" style="left:1214px;top:92px;width:190px;height:1370px">
<p><b>ΑΠΩΛΕΣΘΗ</b> ὡρολόγιον γυναικεῖον, ἐνθύμιον ἀρραβῶνος, τὴν ἑσπέραν τῆς Κυριακῆς ἐπὶ τῆς ὁδοῦ Πρίγκηπος Νικολάου. Παρακαλεῖται ὁ εὑρὼν νὰ τὸ παραδώσῃ εἰς τὰ γραφεῖα τῆς «Μακεδονίας» καὶ ἀμειφθήσεται γενναίως.</p>
<p><b>ΑΠΩΛΕΣΘΗ</b> εἰς τὴν ὁδὸν Κωνστ. Παλαιολόγου ἡ ὑπ᾽ ἀριθ. 22.738 πινακὶς μοτοσυκλέττας. Ὁ εὑρὼν παρακαλεῖται ὅπως τὴν παραδώσῃ εἰς τὰ γραφεῖα «Ἡνωμένων ἀντιπροσώπων» (Τσιμισκῆ 96) τηλέφ. 76-735 καὶ ἀμειφθήσεται.</p>
<p><b>ΑΠΩΛΕΣΘΗ</b> χθὲς ἐπὶ τῆς ὁδοῦ Συγγροῦ 19 κύων ἀστὴς ἐγκλωσσόπος κυνηγετικός, λευκὸς μὲ κηλῖδας χρώματος καφέ, θῆλυ. Ὅστις τὸν εὕρῃ παρακαλεῖται νὰ τὸν παραδώσῃ εἰς τὴν ἀνωτέρω διεύθυνσιν, τηλεφωνικῶς 78-342 ἢ 76-085.</p>
<p><b>ΑΠΩΛΕΣΘΗ</b> τὴν ἑσπέραν τῆς Κυριακῆς μεταξὺ παραλίας καὶ πλατείας Ἁγ. Σοφίας γυναικεῖον ὡρολόγιον, ἐλεφαντοστοῦν κειμήλιον. Παρακαλεῖται ὁ εὑρὼν ὅπως τὸ προσκομίσῃ εἰς τὰ γραφεῖα τῆς «Μακεδονίας» καὶ ἀμειφθήσεται.</p>
<p><b>ΠΩΛΕΙΤΑΙ</b> ἡ α΄ ὄροφος κεντρικῆς πολυκατοικίας ἐκ 200 μ2 κατάλληλος δι᾽ ἰατρὸν εἰς τιμὴν εὐκαιρίας. Τηλ. 75-765.</p>
<p><b>ΠΩΛΕΙΤΑΙ</b> ἀλλαλοῦστον ρετιρὲ μὲ ἐξαιρετικὴν θέαν, λουξ, 3 δωμάτια, 90 τ.μ. Τιμὴ εὐκαιρίας. Τηλ. 75-765.</p>
<p><b>ΠΩΛΕΙΤΑΙ</b> ἔκτασις 16.000 τ.μ. εἰς ἀριστοκρατικὴν περιοχὴν ἐπὶ τῆς ὁδοῦ Θεσσαλονίκης—Βερροίας. Πληροφορίαι Διοικητηρίου 25, Τζόου Πινειδῆν.</p>
<p><b>ΕΝΟΙΚΙΑΖΟΝΤΑΙ</b> μεμονωμένα κενὰ δωμάτια δι᾽ ἐργαστήρια ἢ κατοικίαν, ἐπίσης ὑπόγειον 320 τ.μ. ὡς ἀποθήκη ἢ ἐργοστάσιον, ὁδὸς Βαλαωρίτου 4, τηλέφ. 79-918.</p>
<p><b>ΕΝΟΙΚΙΑΖΕΤΑΙ</b> διαμέρισμα νεόδμητον, Ν. Μιχ. Ἀλεξάνδρου 64, 3ος ὄροφος 2 δωματίων, σάλας κ.λπ. Τηλ. 79-811 ἢ 22-055.</p>
<p><b>ΕΝΟΙΚΙΑΖΟ</b> δωμάτιον ἐπιπλωμένον Β. Ὄλγας 106, διευ. 57, 6 Πυκνοφόπολου.</p>
<p><b>ΠΩΛΕΙΤΑΙ</b> τηλέφωνον. <b>ΕΝΟΙΚΙΑΖΕΤΑΙ</b> διαμέρισμα 2 δωματίων, σάλας κλπ. Τηλ. 81-061.</p>
<p><b>ΕΝΟΙΚΙΑΖΕΤΑΙ</b> γραφεῖον μετὰ χρήσεως τηλεφώνου εἰς κεντρικὴν στοὰν ἀντὶ 300 δραχμῶν. Τηλέφ. 78-311.</p>
<p><b>ΕΝΟΙΚΙΑΖΕΤΑΙ</b> μετὰ τηλεφώνου ἕνα ΓΡΑΦΕΙΟΝ. Τηλέφ. 76-428.</p>
<p><b>ΕΝΟΙΚΙΑΖΕΤΑΙ</b> ἀποθήκη τηλ. 75-204.</p>
<p><b>ΖΗΤΕΙΤΑΙ</b> γραμματεὺς-δακτυλογράφος, γνωρίζουσα ἀπταίστως τὴν γαλλικὴν καὶ ὀλίγα ἀγγλικά. Τηλέφ. 73-570.</p>
<p><b>ΖΗΤΕΙΤΑΙ</b> πεπειραμένος λογιστὴς δι᾽ ἀλλεπάλληλον τὴν ἡμέραν δι᾽ ἐπιχείρησιν Ἀθηνῶν. Τηλέφ. 77-455, Τσιμισκῆ 48, ὧραι 1—2.</p>
<p><b>ΖΗΤΕΙΤΑΙ</b> δεσποινὶς ὑπάλληλος, ἀπόφοιτος γυμνασίου εἰς ἐμπορικὴν ἐπιχείρησιν. Ἀπαραίτητοι γνώσεις λογιστικῆς. Συστάσεις ἀπαραίτητοι. Πληροφορίαι προσωπικῶς, διαφημίσεις «ΗΛΙΟΣ» Πλατεία Ἐμπορίου 1, ὧραι 11—1 π.μ.</p>
<p><b>ΖΗΤΕΙΤΑΙ</b> ὑπηρέτρια 14—18 ἐτῶν μὲ καλὰς συστάσεις διὰ τριμελῆ οἰκογένειαν. Ὁδὸς Ἰλίου 6, παρὰ τὴν Πλατεῖαν Διοικητηρίου. Πληροφορίαι Π. Πανόπουλος, Βασιλίσσης Ὄλγας 40.</p>
<p><b>ΖΗΤΕΙΤΑΙ</b> χημικὸς γεγυμνασμένος ὡς ἐπιστημονικὸς συνεργάτης μεγάλου γεωργικοῦ φαρμακευτικοῦ οἴκου διὰ Θεσσαλονίκην. Αἰτήσεις μετὰ βιογραφικοῦ σημειώματος πρὸς τὸν Ἀ. Π. Ἐμμανουηλίδην, Ἁγίου Κωνσταντίνου 12, Β΄ ὄροφος.</p>
<p><b>ΖΗΤΕΙΤΑΙ</b> συνεργάτης δεσποινὶς ἢ κυρία ἡλικίας 40 ἢ 60.000 καὶ προσωπικὴν ἐργασίαν μὲ ἀμοιβὴν τοῦ μηνός. Κέρδη 2—4000 τὴν ἡμέραν. Πληροφορίαι Παύλου Μελᾶ 2.</p>
<p><b>ΤΗΛΕΤΥΠΟΝ</b> τεχνίτης καὶ χειριστὴς ἀπόφοιτος γυμνασίου ἐκπληρώσας τὰς στρατιωτικάς του ὑποχρεώσεις, ζητεῖ ἐργασίαν. Τηλέφ. 77-628 ἀπὸ ὥρας 9—11 π.μ.</p>
<p><b>ΠΩΛΟΥΝΤΑΙ</b> αὐτοκίνητα ΟΠΕΛ—ΚΑΡΑΒΑΝ 1955, OPEL REKORD 1956, FORD — ΜΕΡΣΕΝΤΕΣ 170 V, ΣΤΕΣΙΩΝ ΒΓΥΛΛΑΣ — ΤΑΥΝΟΥΣ, ΤΖΙΠ ΛΑΝΤΕ, OBER, FIAT 500 ΖΑΠΝΤΙΜΠΡΑ. Ἴωνος Δραγούμη 5, τηλ. 78-487 καὶ 20-791.</p>
<p><b>ΜΟΣΚΟΒΙΤΣ</b> καινούργιο, πωλεῖται, μὲ 8.500 χιλιόμ. καὶ μὲ δόσεις, εἰς τιμὴν συμφέρουσαν. Τηλ. 72-406.</p>
<p><b>ΠΡΟΣΟΧΗ:</b> Θέλετε νὰ πωληθῇ ἀμέσως τὸ αὐτοκίνητό σας; Φέρτετο στὸν καραγάρισμα ἐκθεσί μας, Πλατεῖα Ἐλευθερίας ΓΚΑΡΑΖ SHELL ΡΕΜΙΖΑ ΚΑΙ ΣΥΝΤΗΡΗΣΙΣ ΔΩΡΕΑΝ. Πληροφορίαι Βενιζέλου 4, τηλ. 20-791.</p>
<p><b>ΠΩΛΕΙΤΑΙ</b> αὐτοκίνητον ΧΑΝΟΜΑΚ 1½ τόννου δημοσίας χρήσεως εἰς ἀρίστην κατάστασιν καὶ μὲ εὐκολίας πληρωμῆς. Ἴωνος Δραγούμη 5, τηλέφ. 78-487, 20-791.</p>
<p><b>ΑΓΟΡΑΠΩΛΗΣΙΑΙ ΑΥΤΟΚΙΝΗΤΩΝ.</b> Ἀγοράζονται καὶ πωλοῦνται αὐτοκίνητα φορτηγά, ἐπιβατικὰ Δ.Χ. καὶ Ι.Χ. καθὼς καὶ ἄδειαι δημοσίας χρήσεως, ὅλων τῶν τύπων. Ἴωνος Δραγούμη 5, τηλ. 78-487 καὶ 20-791.</p>
</div>

<!-- COL 7 -->
<div class="col cl" style="left:1410px;top:92px;width:187px;height:890px">
<p><b>ΑΓΟΡΑΙ—ΠΩΛΗΣΕΙΣ</b> ἀδείας τῶν τύπου εἰς τὸ γραφεῖον ΠΑΧΡΙΣΤΟΠΟΥΛΟΥ, Ρογκότη 2 (Π. Ἐλευθερίας) τηλ. 77—259.</p>
<p><b>VISAPHON:</b> Τελειότατον γραμμοφωνικὸν σύστημα ἐκμαθήσεως ξένων γλωσσῶν. Γούναρη καὶ Σιὰ. Ἁγίας Σοφίας 32. Τηλέφ. 72-802.</p>
<p><b>ΡΑΔΙΟΦΩΝΑ POTSDAM — BERLIN, SONRA</b>, ρεύματος ἢ ξηρᾶς μπαταρίας. Ραδιογραμμόφωνα OLYMPIA. Πωλήσεις μόνον χονδρικῶς. ΗΛΕΚΤΡΟΝ, Ἁγίας Σοφίας 34, Θεσσαλονίκη.</p>
<p class="ctr"><b>ΠΡΟΣ ΤΟΥΣ ΚΑΤΟΧΟΥΣ ΡΑΔΙΟΦΩΝΩΝ. ΠΡΟΣΕΞΑΤΕ:</b> Μὴ ἐμπιστεύεσθε τὸ ῥαδιόφωνό σας εἰς τὸν τυχόντα, θὰ σᾶς τὸ χαλάσῃ. Ὁπωσδήποτε θὰ πάθῃ καὶ τὸ ξεσπᾶτε. Ἀναθέσατέ το εἰς τοὺς ἐπιφανεστέρους τεχνίτας καὶ μὲ ἐγγύησιν δι᾽ ἓν ἔτος. ΡΑΔΙΟΦΩΝΙΚΗ, Βενιζέλου 57. Τηλ. 20—417.</p>
<p><b>ΜΕΛΕΤΑΙ</b> - ἐπιβλέψεις - κατασκευαὶ παντὸς εἴδους ἀποχετευτικῶν συστημάτων. ΝΙΚ. Σ. ΜΠΙΑΛΗΣ, Ἑρμοῦ 57.</p>
<p><b>ΠΩΛΕΙΤΑΙ</b> ἐπιχείρησις στεγνοκαθαριστηρίου λόγῳ ἀναχωρήσεως, μὲ ἐξαιρετικὴν πελατείαν. Πληροφορίαι Ἐγνατίας 83, τηλ. 72-407.</p>
<p><b>ΠΩΛΕΙΤΑΙ</b> ἐπιχείρησις ἐν λειτουργίᾳ εἰς κεντρικώτατον σημεῖον τῆς πόλεως. Ἐπίσης κατάστημα ἄρτου 400 καὶ βιοτεχνίας. Πληροφορίαι: Ἰωάννου Ἀνδρικόπουλου, Ἀπ. Παύλου 50. Ὁ ὄροφος. Τηλ. 50.020 τοῖς μετρητοῖς, ὁπόσα ἀπὸ 10 π.μ. μέχρι 4 μ.μ.</p>
<p><b>ΛΗΨΙΣ</b> καὶ τεχνικὴ ἐπεξεργασία κινηματογραφικῶν ταινιῶν 35 Μ.Μ. ΝΙΚ. Σ. ΜΠΙΑΛΗΣ, Ἑρμοῦ 57.</p>
<p><b>ΑΜΕΡΙΚΑΝΟΙ</b> κεφαλαιοῦχοι ἐνδιαφέρονται διὰ τὴν ἐξαγωγὴν ἢ συμμετοχὴν εἰς ὑφισταμένην ἢ ἐπεκτατικὴν βιομηχανίαν, βιοτεχνικὰν κλπ. Ἐνδιαφερόμενοι παρακαλοῦνται νὰ ἀποτανθοῦν εἰς τὰς ἀρμοδίας ἐκθεσιακὰς ἀρχάς. Πληροφορίαι Ἴωνος Δραγούμη 4, Τηλ. 73-663.</p>
<p><b>ΧΑΡΙΝ ΡΕΚΛΑΜΑΣ:</b> Μὲ 25 ἔναντι τῶν ἑβδομάδα, χωρὶς προκαταβολὴν μόνον εἰς 26 ἐργαλεῖα ΨΥΓΕΙΑ ΠΑΓΟΥ εἰς τὸν ΣΙΜΟΠΟΥΛΟΥ Ἐγνατίας 86. Τηλ. 78-311.</p>
<p><b>ΡΑΠΤΟΜΗΧΑΝΑΙ</b> ἐπαγγελματικαὶ ΚΑΥΝΑΝ ὅλων τῶν τύπων. Ἐνοικιάσεις, ραφαὶ. ΝΑΟΥΜΑΝ, Βενιζέλου 53.</p>
<p><b>ΓΡΑΦΟΜΗΧΑΝΑΙ ERIKA</b>, ἐπιλεκτικῶς. ERIKA, Βενιζέλου 53.</p>
<p><b>ΠΛΑΟΥΝΤΑΙ</b> συσσωμάτωσαι ἐκ τῆς ἡλικίας διὰ διοτεχνίαν (κόφιμο) κ. Σάββα 10. Ἐπίσης μοντέλα ἀπὸ 1, 2 ἐτῶν. Τηλ. 70-009.</p>
<p><b>ΚΟΥΡΕΙΟΝ</b> ἐν λειτουργίᾳ ἐπὶ τῆς ὁδοῦ Ἁγίας Σοφίας 35 πωλεῖται λόγῳ ἀναχωρήσεως ἐκτὸς τῆς πόλεως.</p>
<p class="ctr"><b>ΦΙΛΟΛΟΓΙΑ — ΝΟΜΙΚΑ ΠΟΕ — ΑΚΑΔΗΜΙΑ</b><br>Νέα τμήματα ἀπὸ 1 Αὐγούστου. Φροντιστήριο Δεληγιαννίδου. Τηλ. 78-819.</p>
<p class="ctr"><b>ΑΝΕΞΕΤΑΣΤΕΟΙ</b><br>Λειτουργοῦν τμήματα ὅλων τῶν τάξεων καὶ μαθημάτων, εἰς τὸ ΦΡΟΝΤΙΣΤΗΡΙΑ «ΔΗΜΟΚΡΙΤΟΣ», Τσιμισκῆ 72, τηλ. 73-520.</p>
<p><b>ΠΩΛΕΙΤΑΙ</b> ἐπιχείρησις στεγνοκαθαριστηρίου λόγῳ ἀναχωρήσεως, μὲ ἐξαιρετικὴν πελατείαν. Πληροφορίαι Ἐγνατίας 83, τηλ. 72-407.</p>
</div>
<div class="a ctr" style="left:1410px;top:988px;width:187px;height:352px;border:2px solid #000;padding-top:16px">
<div class="fc" style="font-size:32px;line-height:34px;--s:.68"><span>ΕΥΡΩΠΑΪΚΗ</span></div>
<div class="fc" style="font-size:32px;line-height:34px;--s:.75"><span>ΑΝΤΛΙΑ</span></div>
<svg width="180" height="120" style="display:block;margin-top:10px"><rect x="30" y="30" width="90" height="60" rx="18" fill="#777"/><circle cx="135" cy="60" r="30" fill="#555"/><circle cx="135" cy="60" r="12" fill="#ccc"/><rect x="20" y="95" width="140" height="14" fill="#333"/><rect x="40" y="40" width="70" height="6" fill="#bbb"/></svg>
<div class="nar" style="font-size:10px;font-weight:bold">ΣΤΕΓΑΝΟΥ ΤΥΠΟΥ</div>
<div style="font-size:8px">Λειτουργεῖ μὲ τὸ ρεῦμα τοῦ φωτισμοῦ</div>
<div class="nar" style="font-size:9px">ΜΑΝΟΜΕΤΡΙΚΟΝ μέχρι 45</div>
<div class="nar" style="font-size:9px">ΑΝΤΙΠΡΟΣΩΠΟΣ</div>
<div class="fc" style="font-size:24px;font-weight:bold;--s:.72"><span>Β. ΒΟΡΔΟΚΑΣ</span></div>
<div style="font-size:8px">Α. Σουρῆ 22 Τηλέφ. 76—272</div>
<div class="nar" style="font-size:8px">ΘΕΣΣΑΛΟΝΙΚΗ</div>
</div>
<div class="a blk" style="left:1412px;top:1348px;width:185px;height:112px;padding-top:4px;overflow:hidden">
<div class="fc" style="font-size:32px;line-height:32px;--s:.72"><span>ΜΕ ΔΟΣΕΙΣ</span></div>
<div style="border:1px solid #fff;margin:2px 30px;font-size:9px;line-height:11px">ΡΑΠΤΟΜΗΧΑΝΑΙ<br>ΡΑΔΙΟΦΩΝΑ<br>ΓΡΑΦΟΜΗΧΑΝΑΙ<br>ΠΟΔΗΛΑΤΑ</div>
<div class="fc" style="font-size:24px;line-height:24px;letter-spacing:2px;--s:.78"><span>ΠΡΩΤΣΙΟΣ</span></div>
<div style="font-size:7px">ΤΣΙΜΙΣΚΗ 37. ΤΗΛ. 70-731</div>
</div>

<!-- Lighter ad -->
<div class="a" style="left:46px;top:1398px;width:576px;height:952px;overflow:hidden">
<!-- mountains -->
<div style="position:absolute;left:90px;top:565px;width:476px;height:262px;background:#111;clip-path:polygon(0 100%,14.7% 59%,27% 31%,36% 15%,44% 29%,57% 4%,65% 13%,73.5% 1%,84% 48%,100% 100%)"></div>
<div class="dots" style="position:absolute;left:90px;top:565px;width:476px;height:262px;clip-path:polygon(27% 31%,36% 15%,44% 29%,38% 60%,31% 85%);opacity:.9"></div>
<div class="dots" style="position:absolute;left:90px;top:565px;width:476px;height:262px;clip-path:polygon(57% 4%,65% 13%,69% 50%,61% 80%,55% 50%)"></div>
<div class="dots" style="position:absolute;left:90px;top:565px;width:476px;height:262px;clip-path:polygon(73.5% 1%,84% 48%,90% 80%,78% 60%)"></div>
<!-- trail -->
<div style="position:absolute;left:200px;top:480px;width:160px;height:140px;background:#222;clip-path:polygon(0 0,100% 0,62% 100%,32% 100%)"></div>
<!-- cloud -->
<div style="position:absolute;left:110px;top:478px;width:380px;height:108px;border-radius:50%;background:#c4c4c4"></div>
<div style="position:absolute;left:160px;top:488px;width:280px;height:60px;border-radius:50%;background:#e2e2e2"></div>
<!-- lighter -->
<svg width="576" height="560" style="position:absolute;left:0;top:0">
<defs><pattern id="ht" width="4" height="4" patternUnits="userSpaceOnUse"><rect width="4" height="4" fill="#999"/><rect width="2" height="2" fill="#eee"/></pattern>
<pattern id="dt" width="5" height="5" patternUnits="userSpaceOnUse"><rect width="5" height="5" fill="#fff"/><circle cx="2.5" cy="2.5" r="1.4" fill="#000"/></pattern></defs>
<g transform="rotate(-6 285 310)">
<path d="M262,142 C236,112 250,82 262,56 C272,86 290,102 276,142 Z" fill="#bbb" stroke="#000" stroke-width="3"/>
<rect x="190" y="160" width="200" height="320" rx="14" fill="#888" stroke="#000" stroke-width="5"/>
<rect x="200" y="175" width="80" height="295" fill="#aaa" stroke="#222" stroke-width="3"/>
<rect x="290" y="170" width="92" height="300" fill="url(#ht)" stroke="#222" stroke-width="3"/>
<rect x="170" y="105" width="55" height="80" fill="#999" stroke="#000" stroke-width="5"/>
<rect x="236" y="130" width="70" height="40" rx="10" fill="#ccc" stroke="#000" stroke-width="4"/>
</g>
</svg>
<div class="fc" style="position:absolute;left:80px;top:20px;width:460px;font:italic bold 38px/40px 'Liberation Sans',sans-serif;--s:.6"><span>εἰς τὴν κορυφὴν τῆς παγκοσμίου</span></div>
<div class="fc" style="position:absolute;left:290px;top:62px;width:250px;font:italic bold 38px/40px 'Liberation Sans',sans-serif;--s:.6"><span>προτιμήσεως</span></div>
<div class="blk fc" style="position:absolute;left:0;top:655px;width:112px;height:30px;font-size:26px;line-height:30px;--s:.8;outline:2px solid #000"><span>Ο ΝΕΟΣ</span></div>
<div class="blk fc" style="position:absolute;left:0;top:692px;width:186px;height:36px;font-size:38px;line-height:36px;--s:.75;outline:2px solid #000"><span>ΤΡΙΠΛΕΞ</span></div>
<div class="blk fc" style="position:absolute;left:0;top:733px;width:176px;height:36px;font-size:38px;line-height:36px;--s:.8;outline:2px solid #000"><span>ΠΛΑΚΕ</span></div>
<div class="blk" style="position:absolute;left:0;top:824px;width:576px;height:58px;font:italic bold 54px/58px 'Liberation Sans',sans-serif;letter-spacing:12px;overflow:hidden">"Στριμλάϊν"</div>
<div class="fc" style="position:absolute;left:0;top:902px;width:576px;font-size:17px;line-height:20px;--s:.66;justify-content:flex-start"><span style="transform-origin:left">ΤΙΜΗ ΔΡΑΧΜΑΙ 20. ΠΩΛΕΙΤΑΙ ΕΙΣ ΟΛΑ ΤΑ ΠΕΡΙΠΤΕΡΑ ΔΙΟΤΙ ΖΗΤΕΙΤΑΙ ΑΠΟ ΟΛΟΥΣ</span></div>
<div class="fc" style="position:absolute;left:0;top:922px;width:576px;font-size:17px;line-height:20px;--s:.62;justify-content:flex-start"><span style="transform-origin:left">ΓΕΝΙΚΗ ΑΝΤΙΠΡΟΣΩΠΕΙΑ: ΠΑΛΑΙΩΝ ΠΑΤΡΩΝ ΓΕΡΜΑΝΟΥ 7. ΑΘΗΝΑΙ. ΤΗΛΕΦ. 22.744</span></div>
</div>

<!-- ANAKOINOSIS -->
<div class="a" style="left:624px;top:1362px;width:380px;height:582px;border:2px solid #000;padding:4px">
<div style="border:1px solid #000;height:100%;padding:70px 26px 0">
<div class="fc" style="font-size:36px;font-weight:bold;letter-spacing:1px;--s:.72"><span>ΑΝΑΚΟΙΝΩΣΙΣ</span></div>
<div style="width:40px;height:2px;background:#000;margin:10px auto 22px"></div>
<div style="font:9px/11.3px 'Liberation Sans',sans-serif;text-align:justify;text-indent:10px;letter-spacing:-0.2px">Φέρομεν εἰς γνῶσιν τῶν κ.κ. Φαρμακοποιῶν, Φαρμακεμπόρων, Νοσηλευτικῶν Ἱδρυμάτων καὶ τοῦ κοινοῦ, ὅτι τὸ δικαστήριον τῶν ἐν Ἀθήναις Ἐφετῶν διὰ τῆς ὑπ᾽ ἀριθμὸν 3341)1958 ἀποφάσεως αὐτοῦ: 1) Ἔκρινεν ὅτι τὸ ἀπὸ τινος κυκλοφοροῦν ἐν τῇ ἀγορᾷ φαρμακευτικὸν προϊὸν ὑπὸ τὴν ὀνομασίαν «LARIL» τῆς ἐν Μοσχάτῳ Ἀθηνῶν ἑδρευούσης ἑταιρίας περιωρισμένης εὐθύνης ὑπὸ τὴν ἐπωνυμίαν «Χρωματουργεία Ἀθηνῶν — Ἀδελφοὶ Ε. Κολοκοτρώνη ADELCO» παρασκευάζεται διὰ τῆς παρανόμου ἀντιγραφῆς τῶν ἡμετέρων ἐφευρέσεων μεθόδων παραγωγῆς τοῦ ἀπὸ ἐτῶν κυκλοφοροῦντος διεθνῶς γνωστοῦ φαρμακευτικοῦ προϊόντος μας ὑπὸ τὸ διεθνῶς ἀναγνωρισμένον σῆμα μας «LARGACTIL» δι᾽ ἃς ἀπενεμήθησαν ἡμῖν καὶ ἐν Ἑλλάδι τὰ ὑπ᾽ ἀριθ. 16107)55, 16108)55 καὶ 16128)55 Διπλώματα Εὑρεσιτεχνίας. 2) ΔΙΕΤΑΞΕ ΤΗΝ ΚΑΤΑ ΝΟΜΟΝ ΠΕΡΙΓΡΑΦΗΝ ΚΑΙ ΚΑΤΑΣΧΕΣΙΝ τοῦ ἀνωτέρω φαρμακευτικοῦ προϊόντος τοῦ κυκλοφοροῦντος ὑπὸ τὴν ὀνομασίαν «LARIL» ὑπὸ παρασκευὴν ἢ ὑπὸ συσκευασίαν ἢ καὶ ἑτοίμου εἴτε εἰς χεῖρας τῆς ἄνω Ἑταιρίας «Χρωματουργεῖα Ἀθηνῶν — Ἀδελφοὶ Ε. Κολοκοτρώνη ADELCO», ΕΙΤΕ ΕΙΣ ΧΕΙΡΑΣ ΠΑΝΤΟΣ ΤΡΙΤΟΥ ΚΑΤΟΧΟΥ ΥΦ΄ ΟΙΑΝΔΗΠΟΤΕ ΜΟΡΦΗΝ ΚΑΙ ΑΙΤΙΑΝ καὶ 3) Ἀπηγόρευσεν εἰς τὴν ὡς ἄνω Ἑταιρίαν «Χρωματουργεῖα Ἀθηνῶν — Ἀδελφοὶ Ε. Κολοκοτρώνη ADELCO», πᾶσαν ἐν τῷ μέλλοντι χρησιμοποίησιν τῶν ὡς ἄνω ἐφευρέσεων ἡμῶν πρὸς παραγωγὴν τοῦ ἀνωτέρω προϊόντος «LARIL», ἀπαγγείλασα κατ᾽ αὐτῆς χρηματικὴν ποινὴν ἐκ δραχμῶν 600 δι᾽ ἑκάστην περίπτωσιν ἀπειθείας της, πρὸς τὸ διατακτικὸν τῆς ἄνω ἀποφάσεως.</div>
<div class="ctr" style="font-size:9px;line-height:12px;margin-top:6px">Ἐν Ἀθήναις τῇ 14ῃ Μαρτίου 1959<br>SOCIETE DES USINES CHIMIQUES<br>RHONE — POULENC, PARIS</div>
</div></div>
<div class="a ctr" style="left:624px;top:1950px;width:380px;height:172px;border:2px solid #000;padding:6px 14px">
<div class="nar" style="font-size:30px;font-weight:bold;letter-spacing:6px;line-height:32px">METAFIL</div>
<div class="fc" style="font-size:17px;letter-spacing:3px;line-height:20px;--s:.8"><span>ΜΕΤΑΛΛΙΚΟΣ ΣΤΟΚΟΣ</span></div>
<div class="nar" style="font-size:9px;line-height:11px;text-align:justify">ΕΠΙΣΚΕΥΑΖΕΙ 100%. Τὰ μεταλλικὰ ἀμαξώματα καὶ ὅλες τὶς μεταλλικὲς ἐπιφάνειες τῶν αὐτοκινήτων. Τὰ μπλὸκ τῶν κινητήρων, κάρτερ, ρεζερβουάρ, ψυγεῖα. Τὰ ρήγματα καὶ τὶς φθορὲς οἱασδήποτε μορφῆς, χυτοσιδήρων, σιδήρων, χαλκίνων κλπ. ἀντικειμένων.</div>
<div class="nar" style="font-size:10px;margin-top:4px">ΔΙΑΡΚ. ΠΑΡΑΚΑΤΑΘΗΚΗ — ΑΝΤΙΠΡΟΣΩΠΕΙΑ</div>
<div class="nar" style="font-size:16px;font-weight:bold;letter-spacing:2px">Γ. ΠΡΑΣΙΝΟΣ</div>
<div class="fc" style="font-size:11px;font-weight:bold;--s:.85"><span>ΑΓ. ΜΗΝΑ 3 — ΤΗΛ. 21.015 — ΘΕΣΣΑΛΟΝΙΚΗ</span></div>
</div>
<div class="a" style="left:624px;top:2130px;width:380px;height:225px;border:2px solid #000">
<svg width="150" height="170" style="position:absolute;left:14px;top:14px"><rect x="10" y="10" width="130" height="150" fill="url(#dt)" stroke="#000" stroke-width="2"/><rect x="18" y="22" width="114" height="20" fill="#fff" stroke="#000"/><circle cx="35" cy="32" r="5" fill="#333"/><circle cx="55" cy="32" r="5" fill="#333"/><circle cx="75" cy="32" r="5" fill="#333"/><rect x="18" y="50" width="114" height="100" fill="#fff" stroke="#000" stroke-width="2"/><rect x="26" y="58" width="98" height="6" fill="#444"/></svg>
<div class="ctr" style="position:absolute;left:170px;top:10px;width:200px;font-size:10px;line-height:20px">
<div>Ἀπὸ τὴν τελευταία Ἔκθεσι<br>Ἀννοβέρου (Δυτ. Γερμανία)</div>
<div class="fc" style="font-size:32px;font-weight:bold;line-height:40px;--s:.62"><span>«ΚΟΥΠΕΡΠΟΥΣ»</span></div>
<div style="line-height:16px">Ἡ Τελειότερη Ἠλεκτρικὴ Κουζίνα<br>μὲ τὰ περισσότερα πλεονεκτήματα<br>δρχ.3.825.</div>
<div class="fc" style="font-size:21px;line-height:28px;--s:.72"><span>ΑΔΕΛΦΟΙ ΣΑΡΑΦΙΔΗ</span></div>
<div style="font-size:12px;letter-spacing:3px">ΕΡΜΟΥ 29</div>
</div></div>

<!-- Kratika Laxeia -->
<div class="a" style="left:1050px;top:1478px;width:547px;height:850px;overflow:hidden">
<div style="position:absolute;left:8px;top:0;font:italic bold 24px 'Liberation Serif',serif">τὰ</div>
<div class="fc" style="position:absolute;left:0;top:22px;width:510px;font:bold 96px/90px 'Liberation Sans',sans-serif;--s:.6"><span>ΚΡΑΤΙΚΑ ΛΑΧΕΙΑ</span></div>
<div class="nar" style="position:absolute;left:6px;top:122px;font:bold 19px/23px 'Liberation Sans',sans-serif;transform:scaleX(.85);transform-origin:left">Κατὰ τὰ τελευταῖα ἔτη<br>1952-1958 τὸ ΕΘΝΙΚΟΝ<br>καὶ ΛΑΪΚΟΝ ΛΑΧΕΙΟΝ</div>
<div class="nar" style="position:absolute;left:6px;top:195px;font:bold 19px/26px 'Liberation Sans',sans-serif;transform:scaleX(.85);transform-origin:left">ἐμοίρασαν</div>
<div class="nar" style="position:absolute;left:6px;top:225px;font:bold 19px/24px 'Liberation Sans',sans-serif;transform:scaleX(.85);transform-origin:left;letter-spacing:2px">ΣΥΝΟΛΙΚΑ ΚΕΡΔΗ<br><span style="letter-spacing:0">1.107.810.500 Δρχ..!</span></div>
<svg width="547" height="850" style="position:absolute;left:0;top:0">
<g stroke="#000" stroke-width="1" fill="none">
<line x1="40" y1="620" x2="250" y2="620"/><line x1="40" y1="600" x2="250" y2="600"/><line x1="60" y1="575" x2="260" y2="575"/>
<line x1="150" y1="240" x2="320" y2="240"/><line x1="150" y1="270" x2="320" y2="270"/><line x1="150" y1="300" x2="320" y2="300"/><line x1="150" y1="340" x2="320" y2="340"/><line x1="150" y1="380" x2="320" y2="380"/><line x1="150" y1="420" x2="300" y2="420"/><line x1="150" y1="460" x2="300" y2="460"/><line x1="150" y1="500" x2="300" y2="500"/><line x1="150" y1="540" x2="280" y2="540"/>
<line x1="180" y1="220" x2="180" y2="620"/><line x1="215" y1="200" x2="215" y2="620"/><line x1="250" y1="200" x2="250" y2="620"/><line x1="285" y1="200" x2="285" y2="560"/>
</g>
<polyline points="65,629 103,632 143,595 179,581 215,551 250,324 307,205" fill="none" stroke="#000" stroke-width="9"/>
<g font-family="Liberation Sans,sans-serif" font-weight="bold" font-size="19">
<text transform="translate(38,590) rotate(90)">1952</text><text transform="translate(75,585) rotate(90)">1953</text><text transform="translate(115,555) rotate(90)">1954</text><text transform="translate(150,540) rotate(90)">1955</text><text transform="translate(188,515) rotate(90)">1956</text><text transform="translate(222,265) rotate(90)">1957</text><text transform="translate(262,85) rotate(65)">1958</text>
</g>
<g font-family="Liberation Sans,sans-serif" font-size="10" font-weight="bold">
<text x="24" y="648">122.484.000</text><text x="98" y="648">120.800.000</text><text x="122" y="620">129.887.000</text><text x="145" y="598">130.863.000</text><text x="198" y="565">143.520.000</text><text x="228" y="333">225.019.000</text><text x="280" y="221">235.237.500</text>
</g>
<g fill="#1a1a1a"><rect x="384" y="160" width="116" height="96"/><rect x="384" y="266" width="116" height="92"/><rect x="384" y="378" width="116" height="96"/><rect x="384" y="490" width="116" height="85"/><rect x="384" y="592" width="116" height="92"/></g>
<g stroke="#fff" stroke-width="3" fill="none"><circle cx="440" cy="205" r="22"/><circle cx="440" cy="310" r="22"/><circle cx="445" cy="425" r="22"/><circle cx="430" cy="530" r="18"/><circle cx="445" cy="640" r="22"/><path d="M400,250 L480,240 M400,350 L490,340 M395,470 L485,465 M395,570 L490,560 M395,680 L490,670"/></g>
</svg>
<div class="nar" style="position:absolute;left:40px;top:690px;font:bold 19px 'Liberation Sans',sans-serif;transform:scaleX(.85);transform-origin:left;white-space:nowrap">...Καὶ ἀποκατέστησαν ἔτσι 6.358 οἰκογένειες.</div>
<div style="position:absolute;left:0;top:718px;width:495px;height:112px;background:#000;color:#fff;transform:rotate(-2deg);transform-origin:left bottom;font-family:'Liberation Sans',sans-serif;padding:10px 8px;font-weight:bold">
<div style="font-size:18px;line-height:22px">Κατὰ τὸ αὐτὸ χρονικὸ διάστημα<br>ἀπὸ τὰ καθαρὰ ἔσοδά των ἐδόθησαν :</div>
<div style="font-size:11px;line-height:15px;margin-top:6px">Εἰς Δημόσιον Ταμεῖον Δρχ. 171.633.000. Εἰς Ταμεῖον Ἐθνικοῦ Στόλου Δρχ. 24.289.000 Εἰς Δρχ. 3.826.000. Εἰς Ἀρχαιολογικὴν Ἑταιρίαν Δρχ. 47.035.000 Πατριωτικὸν Ἵδρυμα Δρχ. 170.223.000.</div>
</div>
<div style="position:absolute;left:440px;top:836px;font-size:8px;font-weight:bold">Παλέττα</div>
</div>

</body></html>
